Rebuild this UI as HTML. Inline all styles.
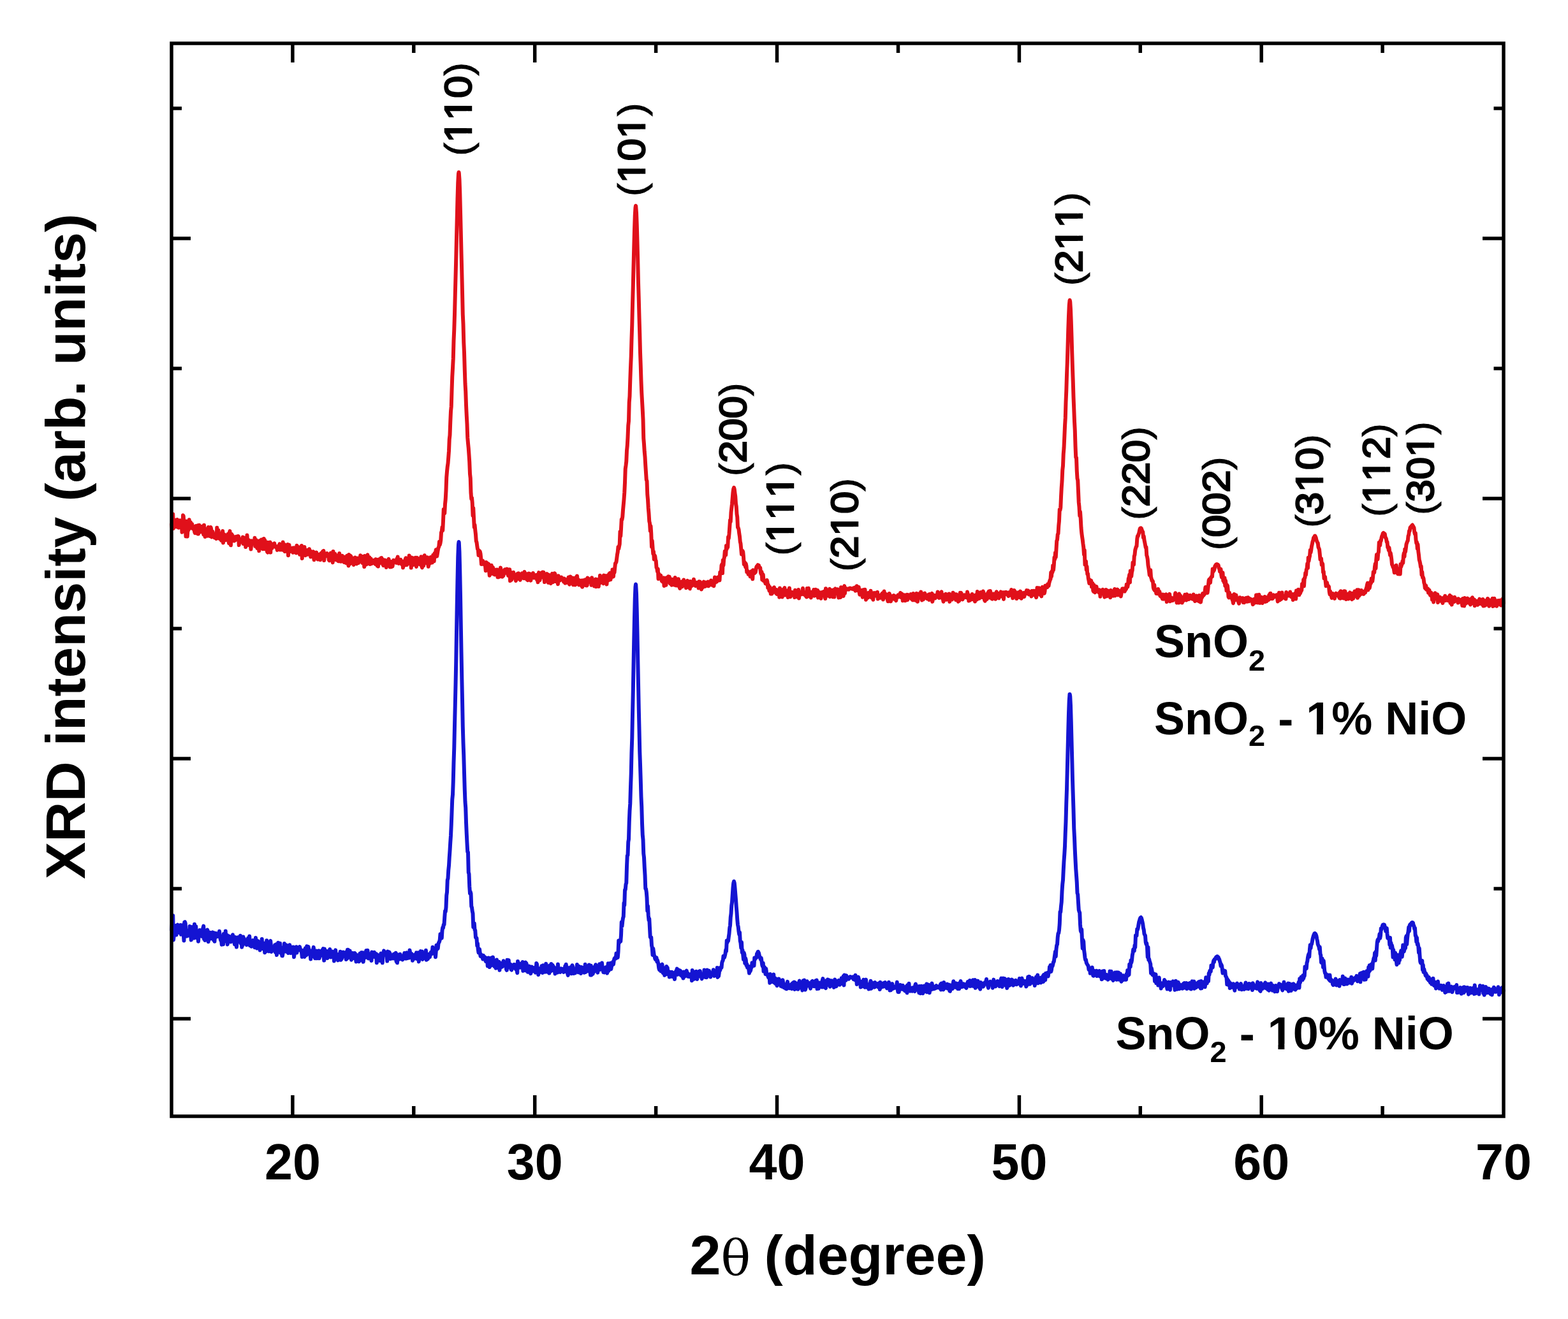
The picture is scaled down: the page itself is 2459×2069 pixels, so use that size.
<!DOCTYPE html>
<html><head><meta charset="utf-8"><title>XRD</title>
<style>
html,body{margin:0;padding:0;background:#fff;}
svg{display:block;}
text{font-family:"Liberation Sans",Arial,sans-serif;font-weight:bold;fill:#000;}
.pl{font-weight:normal;font-kerning:none;stroke:#000;stroke-width:2.6px;}
.pr{font-weight:normal;stroke:#000;stroke-width:1.0px;}
</style></head><body>
<svg width="2459" height="2069" viewBox="0 0 2459 2069">
<rect x="0" y="0" width="2459" height="2069" fill="#fff"/>
<path d="M269.00 822.6L269.75 827.7L270.50 822.8L271.25 806.6L272.00 829.0L272.75 824.6L273.50 815.2L274.25 826.2L275.00 824.3L275.75 823.9L276.50 821.6L277.25 826.6L278.00 815.1L278.75 820.5L279.50 817.9L280.25 827.8L281.00 823.0L281.75 820.4L282.50 816.4L283.25 821.2L284.00 823.7L284.75 821.5L285.50 834.8L286.25 832.5L287.00 808.3L287.75 809.5L288.50 823.6L289.25 821.8L290.00 827.1L290.75 827.3L291.50 841.3L292.25 817.5L293.00 823.4L293.75 841.6L294.50 831.6L295.25 831.9L296.00 823.4L296.75 815.3L297.50 828.8L298.25 828.6L299.00 819.2L299.75 823.4L300.50 828.0L301.25 822.0L302.00 828.2L302.75 829.8L303.50 829.6L304.25 826.1L305.00 833.8L305.75 836.1L306.50 832.4L307.25 824.9L308.00 835.5L308.75 827.5L309.50 836.9L310.25 824.2L311.00 837.5L311.75 831.6L312.50 823.8L313.25 830.1L314.00 832.7L314.75 834.3L315.50 826.5L316.25 825.9L317.00 834.4L317.75 830.4L318.50 835.0L319.25 838.5L320.00 823.7L320.75 835.7L321.50 841.9L322.25 832.7L323.00 829.8L323.75 839.6L324.50 836.7L325.25 840.8L326.00 833.5L326.75 826.9L327.50 835.3L328.25 833.5L329.00 841.0L329.75 837.7L330.50 827.1L331.25 829.9L332.00 842.4L332.75 841.3L333.50 833.8L334.25 837.7L335.00 840.5L335.75 840.8L336.50 843.4L337.25 840.0L338.00 838.1L338.75 837.4L339.50 845.1L340.25 827.8L341.00 838.7L341.75 839.8L342.50 831.7L343.25 841.9L344.00 836.5L344.75 845.2L345.50 839.9L346.25 844.5L347.00 847.8L347.75 843.3L348.50 836.4L349.25 833.0L350.00 851.4L350.75 841.2L351.50 838.2L352.25 843.0L353.00 841.3L353.75 847.2L354.50 842.9L355.25 843.0L356.00 839.2L356.75 845.8L357.50 837.8L358.25 847.2L359.00 852.1L359.75 835.6L360.50 833.2L361.25 847.6L362.00 855.3L362.75 839.2L363.50 838.0L364.25 848.1L365.00 840.6L365.75 842.6L366.50 843.6L367.25 848.5L368.00 843.6L368.75 847.5L369.50 845.2L370.25 841.8L371.00 844.8L371.75 841.5L372.50 846.8L373.25 841.0L374.00 841.3L374.75 855.0L375.50 847.2L376.25 847.3L377.00 850.5L377.75 845.7L378.50 846.9L379.25 850.5L380.00 849.9L380.75 842.4L381.50 853.1L382.25 845.8L383.00 843.5L383.75 844.5L384.50 847.3L385.25 858.1L386.00 843.5L386.75 850.7L387.50 839.5L388.25 850.1L389.00 855.0L389.75 849.2L390.50 847.3L391.25 851.9L392.00 854.5L392.75 854.5L393.50 861.5L394.25 852.4L395.00 848.4L395.75 851.0L396.50 851.4L397.25 852.5L398.00 851.9L398.75 853.1L399.50 843.7L400.25 856.8L401.00 849.7L401.75 846.8L402.50 856.3L403.25 859.9L404.00 855.8L404.75 854.3L405.50 848.8L406.25 864.0L407.00 858.4L407.75 848.1L408.50 850.1L409.25 854.7L410.00 846.5L410.75 855.5L411.50 852.4L412.25 861.2L413.00 860.0L413.75 844.9L414.50 855.5L415.25 847.2L416.00 861.3L416.75 856.6L417.50 858.7L418.25 850.6L419.00 865.5L419.75 866.5L420.50 851.0L421.25 858.5L422.00 853.3L422.75 856.7L423.50 850.5L424.25 866.6L425.00 852.3L425.75 855.9L426.50 860.1L427.25 854.4L428.00 856.6L428.75 855.1L429.50 857.4L430.25 852.3L431.00 856.1L431.75 857.4L432.50 856.9L433.25 859.1L434.00 857.4L434.75 862.9L435.50 857.5L436.25 858.6L437.00 856.1L437.75 856.9L438.50 853.3L439.25 862.5L440.00 854.2L440.75 856.4L441.50 862.1L442.25 862.4L443.00 858.5L443.75 850.6L444.50 862.9L445.25 862.2L446.00 853.9L446.75 865.1L447.50 857.8L448.25 855.8L449.00 862.1L449.75 860.8L450.50 862.9L451.25 853.9L452.00 871.2L452.75 859.2L453.50 854.7L454.25 865.6L455.00 860.9L455.75 864.4L456.50 861.2L457.25 862.7L458.00 864.4L458.75 859.6L459.50 866.8L460.25 861.2L461.00 859.3L461.75 864.2L462.50 866.2L463.25 862.9L464.00 859.9L464.75 867.4L465.50 855.7L466.25 859.5L467.00 864.9L467.75 858.1L468.50 865.1L469.25 864.9L470.00 869.7L470.75 860.9L471.50 862.5L472.25 867.3L473.00 855.9L473.75 875.9L474.50 862.6L475.25 862.6L476.00 870.7L476.75 866.3L477.50 857.9L478.25 869.9L479.00 871.2L479.75 864.9L480.50 865.8L481.25 869.8L482.00 863.0L482.75 869.8L483.50 868.8L484.25 864.6L485.00 861.2L485.75 867.1L486.50 864.0L487.25 873.4L488.00 869.3L488.75 872.6L489.50 869.6L490.25 870.3L491.00 865.3L491.75 872.6L492.50 878.2L493.25 868.1L494.00 866.8L494.75 869.1L495.50 867.7L496.25 866.7L497.00 871.0L497.75 869.0L498.50 877.6L499.25 870.7L500.00 872.4L500.75 875.7L501.50 869.7L502.25 878.3L503.00 868.3L503.75 867.6L504.50 869.9L505.25 871.3L506.00 865.1L506.75 871.9L507.50 864.1L508.25 879.1L509.00 872.1L509.75 869.5L510.50 868.3L511.25 871.0L512.00 871.9L512.75 868.0L513.50 868.8L514.25 872.5L515.00 871.0L515.75 878.2L516.50 879.3L517.25 874.0L518.00 876.3L518.75 867.6L519.50 877.3L520.25 874.2L521.00 876.8L521.75 882.4L522.50 865.0L523.25 876.1L524.00 869.6L524.75 877.9L525.50 868.8L526.25 872.9L527.00 876.4L527.75 878.5L528.50 876.0L529.25 871.9L530.00 873.2L530.75 880.2L531.50 876.0L532.25 868.0L533.00 880.3L533.75 878.4L534.50 880.7L535.25 874.9L536.00 880.6L536.75 871.7L537.50 879.6L538.25 874.6L539.00 880.3L539.75 882.0L540.50 873.7L541.25 877.1L542.00 877.6L542.75 883.2L543.50 881.0L544.25 871.8L545.00 879.9L545.75 881.4L546.50 887.5L547.25 869.9L548.00 875.5L548.75 884.5L549.50 871.7L550.25 872.5L551.00 880.8L551.75 883.3L552.50 875.2L553.25 881.1L554.00 879.1L554.75 885.9L555.50 878.7L556.25 883.5L557.00 874.5L557.75 878.0L558.50 878.4L559.25 884.4L560.00 881.8L560.75 875.5L561.50 882.3L562.25 882.8L563.00 878.6L563.75 878.0L564.50 878.3L565.25 871.2L566.00 880.2L566.75 880.5L567.50 875.3L568.25 883.0L569.00 872.9L569.75 876.9L570.50 877.3L571.25 889.1L572.00 872.0L572.75 882.3L573.50 884.2L574.25 881.5L575.00 885.4L575.75 875.0L576.50 870.3L577.25 883.5L578.00 874.2L578.75 878.3L579.50 874.3L580.25 885.0L581.00 884.1L581.75 876.6L582.50 884.3L583.25 880.6L584.00 879.4L584.75 880.4L585.50 879.2L586.25 883.1L587.00 881.6L587.75 878.5L588.50 885.0L589.25 877.3L590.00 881.6L590.75 882.3L591.50 887.3L592.25 877.9L593.00 888.6L593.75 881.2L594.50 879.4L595.25 877.2L596.00 883.2L596.75 880.6L597.50 875.2L598.25 875.1L599.00 877.8L599.75 877.2L600.50 885.7L601.25 887.0L602.00 884.6L602.75 882.2L603.50 878.5L604.25 880.8L605.00 884.8L605.75 890.1L606.50 884.9L607.25 879.3L608.00 880.8L608.75 878.3L609.50 876.9L610.25 879.8L611.00 881.6L611.75 889.4L612.50 880.9L613.25 887.2L614.00 889.1L614.75 881.1L615.50 888.4L616.25 884.1L617.00 878.8L617.75 882.0L618.50 880.9L619.25 879.7L620.00 879.8L620.75 881.5L621.50 882.9L622.25 876.6L623.00 880.8L623.75 873.6L624.50 882.1L625.25 883.8L626.00 881.6L626.75 882.2L627.50 883.7L628.25 877.7L629.00 879.7L629.75 883.3L630.50 885.7L631.25 882.8L632.00 890.4L632.75 880.5L633.50 885.7L634.25 887.0L635.00 880.3L635.75 877.0L636.50 875.3L637.25 881.7L638.00 886.2L638.75 882.3L639.50 881.8L640.25 879.2L641.00 883.7L641.75 871.5L642.50 882.1L643.25 881.1L644.00 874.5L644.75 890.5L645.50 874.4L646.25 875.9L647.00 875.3L647.75 886.3L648.50 876.8L649.25 884.2L650.00 883.8L650.75 882.2L651.50 874.8L652.25 878.1L653.00 888.9L653.75 874.8L654.50 877.0L655.25 880.2L656.00 884.8L656.75 882.2L657.50 884.5L658.25 875.9L659.00 885.4L659.75 883.6L660.50 873.3L661.25 888.2L662.00 890.4L662.75 877.2L663.50 881.0L664.25 887.4L665.00 873.7L665.75 871.2L666.50 874.4L667.25 877.8L668.00 877.7L668.75 883.2L669.50 881.5L670.25 874.2L671.00 882.7L671.75 888.8L672.50 885.3L673.25 884.1L674.00 879.3L674.75 883.6L675.50 873.9L676.25 881.8L677.00 877.3L677.75 882.6L678.50 878.9L679.25 870.7L680.00 875.8L680.75 880.2L681.50 867.9L682.25 869.5L683.00 867.2L683.75 862.2L684.50 872.7L685.25 872.6L686.00 868.1L686.75 863.1L687.50 859.1L688.25 857.9L689.00 849.8L689.75 854.8L690.50 851.9L691.25 847.3L692.00 835.2L692.75 833.6L693.50 827.0L694.25 832.0L695.00 817.1L695.75 799.1L696.50 804.6L697.25 805.2L698.00 790.6L698.75 783.1L699.50 769.3L700.25 748.7L701.00 739.5L701.75 732.0L702.50 726.9L703.25 717.6L704.00 707.4L704.75 689.1L705.50 682.5L706.25 662.1L707.00 645.3L707.75 637.7L708.50 613.0L709.25 591.2L710.00 577.5L710.75 562.9L711.50 534.4L712.25 517.7L713.00 493.2L713.75 463.7L714.50 434.8L715.25 405.6L716.00 372.8L716.75 341.9L717.50 311.0L718.25 286.3L719.00 272.5L719.50 270.2L719.75 271.3L720.50 281.4L721.25 302.7L722.00 332.6L722.75 363.5L723.50 396.3L724.25 426.4L725.00 458.2L725.75 492.8L726.50 508.7L727.25 536.8L728.00 553.1L728.75 579.2L729.50 601.5L730.25 614.1L731.00 635.5L731.75 651.4L732.50 665.2L733.25 686.4L734.00 695.3L734.75 702.8L735.50 713.4L736.25 724.6L737.00 743.4L737.75 750.1L738.50 773.3L739.25 782.5L740.00 780.7L740.75 789.0L741.50 808.6L742.25 796.9L743.00 812.2L743.75 826.9L744.50 823.3L745.25 831.7L746.00 838.1L746.75 848.6L747.50 850.6L748.25 856.4L749.00 861.4L749.75 862.2L750.50 871.0L751.25 865.0L752.00 864.3L752.75 865.3L753.50 868.4L754.25 875.6L755.00 885.1L755.75 882.7L756.50 880.6L757.25 879.7L758.00 883.5L758.75 885.2L759.50 885.5L760.25 882.4L761.00 887.6L761.75 895.3L762.50 882.0L763.25 890.7L764.00 883.2L764.75 893.7L765.50 889.9L766.25 884.7L767.00 894.7L767.75 902.8L768.50 895.4L769.25 900.5L770.00 895.2L770.75 886.7L771.50 898.3L772.25 894.4L773.00 889.9L773.75 900.4L774.50 898.3L775.25 894.9L776.00 901.4L776.75 893.7L777.50 900.8L778.25 893.8L779.00 900.6L779.75 893.5L780.50 905.3L781.25 899.9L782.00 905.4L782.75 895.4L783.50 897.1L784.25 903.2L785.00 890.6L785.75 895.0L786.50 904.5L787.25 902.1L788.00 904.6L788.75 898.9L789.50 903.0L790.25 897.3L791.00 894.6L791.75 893.3L792.50 898.5L793.25 898.7L794.00 898.4L794.75 892.5L795.50 892.6L796.25 899.2L797.00 903.0L797.75 899.3L798.50 898.1L799.25 893.2L800.00 911.1L800.75 897.4L801.50 909.9L802.25 909.4L803.00 903.8L803.75 900.2L804.50 903.4L805.25 897.8L806.00 904.2L806.75 903.1L807.50 905.5L808.25 907.5L809.00 911.0L809.75 901.7L810.50 908.1L811.25 900.1L812.00 899.7L812.75 901.0L813.50 899.5L814.25 908.3L815.00 908.1L815.75 909.7L816.50 904.0L817.25 905.4L818.00 901.7L818.75 899.3L819.50 906.4L820.25 905.6L821.00 899.7L821.75 907.2L822.50 897.0L823.25 903.9L824.00 902.0L824.75 902.5L825.50 900.1L826.25 909.1L827.00 907.5L827.75 910.2L828.50 905.6L829.25 899.4L830.00 903.5L830.75 900.0L831.50 907.2L832.25 910.6L833.00 906.7L833.75 902.7L834.50 903.7L835.25 906.3L836.00 899.1L836.75 906.1L837.50 906.4L838.25 903.2L839.00 903.8L839.75 906.4L840.50 902.1L841.25 902.1L842.00 909.2L842.75 906.8L843.50 913.2L844.25 901.6L845.00 898.1L845.75 910.1L846.50 910.2L847.25 902.8L848.00 899.7L848.75 905.9L849.50 898.5L850.25 904.7L851.00 897.6L851.75 905.3L852.50 897.7L853.25 905.3L854.00 913.1L854.75 905.3L855.50 909.9L856.25 903.8L857.00 902.7L857.75 900.1L858.50 911.3L859.25 906.5L860.00 913.9L860.75 901.7L861.50 906.0L862.25 907.4L863.00 913.2L863.75 915.1L864.50 904.4L865.25 902.4L866.00 899.8L866.75 913.3L867.50 907.2L868.25 904.8L869.00 907.5L869.75 899.3L870.50 900.4L871.25 912.1L872.00 909.8L872.75 908.9L873.50 904.0L874.25 911.0L875.00 916.2L875.75 903.3L876.50 908.8L877.25 907.0L878.00 910.5L878.75 909.1L879.50 908.5L880.25 905.5L881.00 909.3L881.75 906.8L882.50 909.0L883.25 909.4L884.00 912.6L884.75 907.4L885.50 908.6L886.25 914.7L887.00 909.3L887.75 909.2L888.50 914.1L889.25 911.7L890.00 911.0L890.75 911.6L891.50 905.5L892.25 912.9L893.00 916.7L893.75 913.5L894.50 904.4L895.25 912.4L896.00 907.4L896.75 910.4L897.50 912.0L898.25 906.4L899.00 917.3L899.75 911.3L900.50 915.0L901.25 914.4L902.00 917.5L902.75 916.9L903.50 905.5L904.25 912.0L905.00 903.4L905.75 909.9L906.50 914.9L907.25 915.8L908.00 917.4L908.75 910.3L909.50 913.3L910.25 912.4L911.00 917.4L911.75 918.8L912.50 910.4L913.25 920.7L914.00 912.0L914.75 910.4L915.50 914.5L916.25 915.2L917.00 914.3L917.75 909.2L918.50 918.3L919.25 912.2L920.00 918.6L920.75 918.0L921.50 906.5L922.25 907.8L923.00 907.7L923.75 913.0L924.50 912.2L925.25 913.1L926.00 908.5L926.75 913.8L927.50 917.9L928.25 906.2L929.00 911.1L929.75 912.9L930.50 911.3L931.25 911.0L932.00 919.4L932.75 917.3L933.50 915.4L934.25 908.4L935.00 920.3L935.75 913.2L936.50 909.1L937.25 910.1L938.00 909.4L938.75 920.1L939.50 912.2L940.25 911.6L941.00 902.7L941.75 914.3L942.50 906.5L943.25 906.1L944.00 913.5L944.75 907.0L945.50 914.2L946.25 915.3L947.00 902.5L947.75 909.5L948.50 903.1L949.25 909.4L950.00 913.3L950.75 903.2L951.50 916.6L952.25 907.0L953.00 902.8L953.75 906.9L954.50 910.4L955.25 900.3L956.00 905.7L956.75 898.8L957.50 909.3L958.25 903.7L959.00 900.1L959.75 905.3L960.50 893.6L961.25 896.0L962.00 904.4L962.75 893.6L963.50 898.3L964.25 890.6L965.00 883.8L965.75 883.1L966.50 881.4L967.25 875.6L968.00 869.8L968.75 865.9L969.50 857.9L970.25 860.9L971.00 857.1L971.75 853.3L972.50 833.9L973.25 841.1L974.00 829.8L974.75 814.7L975.50 815.1L976.25 810.7L977.00 800.3L977.75 792.1L978.50 783.5L979.25 773.0L980.00 757.1L980.75 735.4L981.50 730.2L982.25 723.9L983.00 706.8L983.75 699.4L984.50 685.8L985.25 667.3L986.00 660.5L986.75 630.9L987.50 621.8L988.25 597.4L989.00 576.5L989.75 559.4L990.50 532.2L991.25 510.2L992.00 478.1L992.75 450.6L993.50 418.6L994.25 388.7L995.00 360.7L995.75 338.3L996.50 325.8L997.00 322.7L997.25 323.4L998.00 333.6L998.75 353.3L999.50 379.8L1000.25 409.7L1001.00 443.3L1001.75 468.6L1002.50 497.7L1003.25 523.2L1004.00 552.9L1004.75 573.5L1005.50 597.4L1006.25 616.2L1007.00 629.1L1007.75 643.0L1008.50 657.8L1009.25 687.6L1010.00 696.8L1010.75 708.6L1011.50 716.7L1012.25 729.9L1013.00 741.1L1013.75 752.6L1014.50 754.5L1015.25 775.5L1016.00 783.7L1016.75 796.9L1017.50 805.5L1018.25 817.6L1019.00 820.9L1019.75 832.8L1020.50 825.1L1021.25 836.6L1022.00 857.6L1022.75 848.3L1023.50 858.5L1024.25 868.4L1025.00 865.2L1025.75 877.3L1026.50 870.9L1027.25 872.3L1028.00 878.4L1028.75 879.9L1029.50 890.2L1030.25 891.3L1031.00 896.5L1031.75 892.4L1032.50 907.9L1033.25 900.1L1034.00 901.7L1034.75 905.3L1035.50 903.4L1036.25 902.7L1037.00 906.8L1037.75 911.2L1038.50 910.9L1039.25 912.7L1040.00 906.8L1040.75 906.4L1041.50 918.9L1042.25 909.6L1043.00 913.1L1043.75 914.5L1044.50 917.8L1045.25 906.2L1046.00 910.1L1046.75 910.6L1047.50 911.3L1048.25 904.3L1049.00 912.6L1049.75 904.7L1050.50 914.6L1051.25 915.7L1052.00 916.1L1052.75 908.6L1053.50 917.8L1054.25 910.2L1055.00 908.8L1055.75 909.9L1056.50 910.6L1057.25 915.0L1058.00 917.8L1058.75 906.0L1059.50 912.2L1060.25 918.4L1061.00 915.5L1061.75 916.9L1062.50 908.4L1063.25 918.9L1064.00 908.3L1064.75 915.8L1065.50 920.8L1066.25 923.0L1067.00 917.3L1067.75 918.9L1068.50 912.6L1069.25 913.2L1070.00 920.2L1070.75 915.3L1071.50 914.8L1072.25 909.5L1073.00 916.1L1073.75 918.2L1074.50 912.2L1075.25 913.4L1076.00 922.2L1076.75 916.4L1077.50 914.4L1078.25 910.9L1079.00 913.1L1079.75 914.7L1080.50 921.5L1081.25 913.2L1082.00 923.4L1082.75 911.9L1083.50 914.3L1084.25 919.4L1085.00 914.9L1085.75 912.4L1086.50 915.3L1087.25 917.8L1088.00 908.7L1088.75 914.9L1089.50 915.5L1090.25 914.3L1091.00 919.1L1091.75 913.6L1092.50 914.5L1093.25 916.2L1094.00 919.1L1094.75 915.1L1095.50 922.4L1096.25 912.2L1097.00 921.4L1097.75 912.4L1098.50 915.3L1099.25 917.5L1100.00 924.4L1100.75 919.8L1101.50 914.3L1102.25 921.4L1103.00 915.1L1103.75 912.6L1104.50 917.8L1105.25 916.3L1106.00 919.9L1106.75 913.5L1107.50 917.4L1108.25 918.4L1109.00 916.9L1109.75 915.5L1110.50 912.6L1111.25 919.3L1112.00 916.0L1112.75 917.4L1113.50 913.7L1114.25 915.1L1115.00 910.5L1115.75 915.1L1116.50 917.8L1117.25 914.7L1118.00 917.7L1118.75 915.0L1119.50 919.2L1120.25 912.1L1121.00 905.4L1121.75 913.8L1122.50 910.6L1123.25 906.4L1124.00 912.6L1124.75 910.0L1125.50 909.8L1126.25 905.3L1127.00 906.3L1127.75 905.2L1128.50 910.4L1129.25 897.8L1130.00 898.9L1130.75 898.6L1131.50 886.9L1132.25 885.0L1133.00 899.1L1133.75 878.8L1134.50 886.8L1135.25 877.0L1136.00 874.1L1136.75 864.7L1137.50 866.2L1138.25 870.5L1139.00 856.0L1139.75 861.3L1140.50 855.5L1141.25 858.6L1142.00 842.4L1142.75 844.6L1143.50 837.2L1144.25 826.8L1145.00 816.0L1145.75 818.3L1146.50 803.5L1147.25 797.2L1148.00 790.3L1148.75 781.3L1149.50 772.1L1150.25 767.0L1151.00 764.9L1151.75 767.4L1152.50 773.5L1153.25 778.7L1154.00 790.1L1154.75 794.5L1155.50 806.3L1156.25 811.0L1157.00 827.3L1157.75 828.0L1158.50 830.5L1159.25 836.8L1160.00 841.5L1160.75 849.7L1161.50 852.7L1162.25 861.0L1163.00 869.5L1163.75 869.4L1164.50 863.9L1165.25 865.6L1166.00 873.2L1166.75 885.1L1167.50 881.5L1168.25 882.7L1169.00 889.1L1169.75 884.3L1170.50 887.8L1171.25 897.2L1172.00 895.2L1172.75 896.0L1173.50 900.7L1174.25 897.6L1175.00 897.9L1175.75 899.4L1176.50 904.4L1177.25 902.1L1178.00 896.3L1178.75 899.9L1179.50 903.6L1180.25 908.3L1181.00 894.2L1181.75 899.7L1182.50 896.1L1183.25 899.2L1184.00 896.4L1184.75 897.9L1185.50 893.2L1186.25 889.4L1187.00 888.1L1187.75 887.4L1188.50 886.2L1189.00 886.5L1189.25 886.6L1190.00 887.0L1190.75 890.1L1191.50 890.1L1192.25 890.8L1193.00 898.7L1193.75 900.6L1194.50 897.0L1195.25 909.3L1196.00 900.6L1196.75 901.6L1197.50 911.1L1198.25 910.9L1199.00 910.9L1199.75 912.8L1200.50 915.3L1201.25 915.0L1202.00 916.1L1202.75 909.9L1203.50 913.2L1204.25 922.1L1205.00 917.5L1205.75 923.3L1206.50 926.8L1207.25 920.8L1208.00 923.9L1208.75 931.4L1209.50 926.5L1210.25 931.6L1211.00 930.7L1211.75 927.9L1212.50 924.7L1213.25 922.1L1214.00 921.4L1214.75 928.1L1215.50 928.3L1216.25 926.0L1217.00 930.4L1217.75 924.9L1218.50 932.0L1219.25 928.0L1220.00 927.9L1220.75 928.3L1221.50 928.1L1222.25 936.7L1223.00 922.5L1223.75 929.8L1224.50 934.2L1225.25 932.3L1226.00 928.4L1226.75 936.6L1227.50 925.6L1228.25 924.7L1229.00 932.2L1229.75 924.2L1230.50 922.1L1231.25 933.5L1232.00 933.1L1232.75 933.0L1233.50 928.2L1234.25 930.9L1235.00 926.3L1235.75 937.0L1236.50 933.3L1237.25 933.2L1238.00 922.5L1238.75 933.5L1239.50 936.2L1240.25 935.1L1241.00 933.4L1241.75 930.3L1242.50 929.0L1243.25 932.7L1244.00 931.9L1244.75 931.3L1245.50 929.2L1246.25 937.1L1247.00 925.8L1247.75 930.4L1248.50 928.2L1249.25 934.5L1250.00 936.1L1250.75 935.4L1251.50 933.5L1252.25 925.0L1253.00 938.4L1253.75 932.6L1254.50 930.1L1255.25 930.6L1256.00 929.2L1256.75 932.3L1257.50 931.8L1258.25 929.2L1259.00 922.7L1259.75 930.5L1260.50 932.5L1261.25 932.7L1262.00 930.0L1262.75 932.4L1263.50 934.7L1264.25 928.8L1265.00 936.5L1265.75 923.0L1266.50 925.7L1267.25 927.1L1268.00 922.8L1268.75 926.8L1269.50 935.6L1270.25 935.6L1271.00 931.1L1271.75 937.5L1272.50 931.7L1273.25 928.8L1274.00 931.7L1274.75 930.2L1275.50 933.7L1276.25 924.9L1277.00 934.7L1277.75 929.0L1278.50 934.2L1279.25 924.8L1280.00 929.2L1280.75 931.2L1281.50 934.4L1282.25 926.1L1283.00 937.5L1283.75 932.8L1284.50 928.8L1285.25 935.7L1286.00 931.3L1286.75 935.5L1287.50 938.8L1288.25 934.0L1289.00 928.9L1289.75 929.3L1290.50 933.3L1291.25 932.2L1292.00 927.8L1292.75 928.4L1293.50 933.7L1294.25 939.0L1295.00 923.2L1295.75 934.0L1296.50 930.3L1297.25 934.2L1298.00 934.6L1298.75 931.4L1299.50 927.2L1300.25 925.7L1301.00 923.8L1301.75 936.0L1302.50 930.4L1303.25 929.1L1304.00 930.1L1304.75 925.9L1305.50 932.4L1306.25 936.4L1307.00 935.6L1307.75 924.9L1308.50 936.4L1309.25 928.0L1310.00 923.4L1310.75 926.0L1311.50 926.9L1312.25 930.6L1313.00 926.4L1313.75 924.4L1314.50 929.1L1315.25 937.6L1316.00 927.0L1316.75 931.4L1317.50 929.6L1318.25 936.9L1319.00 921.2L1319.75 932.8L1320.50 923.0L1321.25 925.4L1322.00 927.0L1322.75 934.9L1323.50 923.7L1324.25 919.1L1325.00 930.7L1325.75 922.5L1326.50 924.3L1327.25 924.7L1328.00 924.8L1328.75 923.7L1329.50 924.5L1330.25 924.4L1331.00 924.7L1331.75 922.8L1332.50 922.6L1333.25 922.5L1334.00 923.2L1334.75 923.0L1335.00 923.1L1335.50 923.2L1336.25 923.7L1337.00 923.4L1337.75 924.1L1338.50 922.2L1339.25 922.2L1340.00 923.6L1340.75 921.7L1341.50 926.8L1342.25 921.3L1343.00 926.0L1343.75 919.2L1344.50 922.6L1345.25 925.8L1346.00 926.5L1346.75 921.0L1347.50 928.8L1348.25 932.7L1349.00 931.8L1349.75 927.1L1350.50 927.7L1351.25 925.8L1352.00 933.3L1352.75 936.8L1353.50 929.4L1354.25 925.1L1355.00 932.8L1355.75 935.0L1356.50 924.7L1357.25 933.3L1358.00 940.7L1358.75 936.3L1359.50 935.4L1360.25 935.0L1361.00 937.7L1361.75 930.0L1362.50 930.5L1363.25 935.5L1364.00 931.3L1364.75 935.0L1365.50 926.7L1366.25 937.1L1367.00 937.5L1367.75 934.5L1368.50 935.0L1369.25 940.7L1370.00 930.3L1370.75 931.0L1371.50 930.3L1372.25 933.0L1373.00 930.7L1373.75 934.8L1374.50 932.2L1375.25 929.2L1376.00 928.8L1376.75 939.5L1377.50 934.6L1378.25 934.0L1379.00 935.0L1379.75 934.7L1380.50 937.9L1381.25 937.2L1382.00 932.8L1382.75 931.9L1383.50 930.9L1384.25 930.3L1385.00 940.6L1385.75 931.7L1386.50 927.5L1387.25 932.0L1388.00 932.3L1388.75 936.6L1389.50 932.0L1390.25 937.4L1391.00 936.9L1391.75 940.3L1392.50 943.2L1393.25 943.2L1394.00 940.7L1394.75 931.1L1395.50 934.0L1396.25 936.5L1397.00 943.3L1397.75 938.2L1398.50 940.3L1399.25 935.0L1400.00 938.0L1400.75 938.5L1401.50 934.0L1402.25 938.7L1403.00 939.9L1403.75 935.2L1404.50 939.7L1405.25 942.1L1406.00 936.1L1406.75 935.9L1407.50 934.7L1408.25 933.5L1409.00 936.5L1409.75 934.3L1410.50 934.7L1411.25 933.0L1412.00 930.0L1412.75 932.3L1413.50 937.2L1414.25 931.4L1415.00 933.5L1415.75 942.3L1416.50 940.3L1417.25 933.3L1418.00 938.3L1418.75 933.5L1419.50 942.2L1420.25 933.8L1421.00 936.3L1421.75 941.3L1422.50 932.8L1423.25 941.0L1424.00 932.9L1424.75 936.9L1425.50 934.9L1426.25 935.7L1427.00 936.6L1427.75 935.7L1428.50 932.1L1429.25 939.3L1430.00 938.8L1430.75 941.0L1431.50 941.3L1432.25 930.9L1433.00 941.0L1433.75 941.0L1434.50 934.0L1435.25 940.0L1436.00 941.7L1436.75 934.0L1437.50 930.8L1438.25 934.7L1439.00 943.7L1439.75 936.9L1440.50 931.4L1441.25 935.1L1442.00 932.2L1442.75 934.5L1443.50 936.4L1444.25 928.4L1445.00 937.4L1445.75 941.5L1446.50 935.3L1447.25 934.6L1448.00 940.2L1448.75 931.2L1449.50 931.3L1450.25 930.7L1451.00 935.5L1451.75 937.6L1452.50 935.7L1453.25 938.2L1454.00 939.2L1454.75 938.0L1455.50 933.0L1456.25 935.0L1457.00 940.9L1457.75 932.1L1458.50 935.1L1459.25 934.5L1460.00 935.4L1460.75 931.9L1461.50 930.9L1462.25 943.7L1463.00 939.7L1463.75 933.3L1464.50 935.8L1465.25 938.7L1466.00 934.8L1466.75 938.4L1467.50 933.7L1468.25 934.7L1469.00 935.7L1469.75 934.3L1470.50 928.4L1471.25 936.2L1472.00 937.1L1472.75 937.9L1473.50 932.3L1474.25 937.4L1475.00 936.9L1475.75 929.3L1476.50 928.4L1477.25 937.9L1478.00 932.4L1478.75 939.9L1479.50 943.7L1480.25 933.8L1481.00 933.4L1481.75 936.0L1482.50 938.7L1483.25 931.7L1484.00 940.8L1484.75 939.9L1485.50 938.6L1486.25 934.0L1487.00 939.6L1487.75 939.4L1488.50 931.5L1489.25 943.7L1490.00 934.9L1490.75 937.5L1491.50 934.1L1492.25 937.5L1493.00 940.5L1493.75 933.0L1494.50 929.7L1495.25 934.3L1496.00 931.1L1496.75 933.1L1497.50 935.6L1498.25 935.8L1499.00 941.0L1499.75 932.2L1500.50 937.4L1501.25 934.1L1502.00 941.3L1502.75 943.7L1503.50 937.2L1504.25 942.5L1505.00 934.0L1505.75 929.9L1506.50 931.2L1507.25 930.0L1508.00 932.4L1508.75 935.1L1509.50 940.4L1510.25 938.7L1511.00 937.8L1511.75 934.4L1512.50 933.3L1513.25 936.1L1514.00 936.5L1514.75 937.0L1515.50 937.4L1516.25 935.6L1517.00 928.6L1517.75 931.7L1518.50 932.8L1519.25 942.5L1520.00 934.4L1520.75 938.6L1521.50 941.6L1522.25 937.3L1523.00 934.5L1523.75 934.8L1524.50 932.0L1525.25 937.1L1526.00 940.2L1526.75 938.1L1527.50 938.8L1528.25 938.6L1529.00 943.5L1529.75 933.4L1530.50 936.4L1531.25 938.5L1532.00 940.5L1532.75 928.0L1533.50 933.7L1534.25 934.8L1535.00 931.6L1535.75 938.8L1536.50 936.4L1537.25 933.9L1538.00 929.1L1538.75 930.3L1539.50 931.6L1540.25 937.1L1541.00 930.6L1541.75 927.5L1542.50 929.6L1543.25 932.8L1544.00 941.5L1544.75 942.7L1545.50 933.1L1546.25 938.6L1547.00 940.3L1547.75 939.8L1548.50 934.3L1549.25 929.7L1550.00 932.8L1550.75 927.4L1551.50 935.5L1552.25 937.5L1553.00 927.1L1553.75 934.2L1554.50 935.4L1555.25 939.1L1556.00 939.5L1556.75 937.2L1557.50 931.4L1558.25 932.6L1559.00 938.6L1559.75 931.5L1560.50 933.6L1561.25 939.8L1562.00 934.2L1562.75 928.3L1563.50 932.4L1564.25 936.0L1565.00 932.7L1565.75 937.9L1566.50 938.3L1567.25 930.7L1568.00 931.2L1568.75 932.7L1569.50 928.4L1570.25 934.5L1571.00 932.2L1571.75 935.9L1572.50 930.5L1573.25 929.3L1574.00 939.9L1574.75 929.2L1575.50 930.3L1576.25 929.7L1577.00 931.3L1577.75 928.8L1578.50 932.2L1579.25 929.5L1580.00 930.6L1580.75 933.6L1581.50 934.9L1582.25 933.9L1583.00 929.1L1583.75 933.5L1584.50 931.4L1585.25 931.4L1586.00 925.0L1586.75 934.4L1587.50 931.1L1588.25 938.3L1589.00 934.1L1589.75 927.2L1590.50 926.1L1591.25 936.0L1592.00 928.0L1592.75 934.1L1593.50 930.1L1594.25 939.1L1595.00 931.6L1595.75 937.2L1596.50 936.4L1597.25 929.3L1598.00 929.8L1598.75 936.9L1599.50 931.1L1600.25 927.6L1601.00 935.7L1601.75 938.8L1602.50 930.8L1603.25 936.4L1604.00 930.3L1604.75 936.2L1605.50 929.9L1606.25 936.1L1607.00 932.9L1607.75 930.0L1608.50 931.7L1609.25 928.6L1610.00 926.2L1610.75 926.5L1611.50 930.4L1612.25 926.4L1613.00 932.2L1613.75 932.6L1614.50 932.3L1615.25 928.4L1616.00 930.5L1616.75 930.2L1617.50 935.5L1618.25 927.0L1619.00 928.6L1619.75 929.1L1620.50 929.4L1621.25 926.9L1622.00 927.3L1622.75 933.8L1623.50 927.1L1624.25 933.2L1625.00 937.1L1625.75 934.4L1626.50 922.1L1627.25 932.2L1628.00 930.9L1628.75 931.0L1629.50 922.2L1630.25 931.6L1631.00 924.0L1631.75 933.3L1632.50 932.2L1633.25 935.4L1634.00 925.8L1634.75 920.9L1635.50 930.9L1636.25 929.8L1637.00 924.3L1637.75 930.8L1638.50 927.5L1639.25 918.8L1640.00 921.9L1640.75 920.7L1641.50 921.1L1642.25 921.3L1643.00 916.4L1643.75 917.2L1644.50 919.0L1645.25 914.6L1646.00 911.9L1646.75 909.7L1647.50 908.3L1648.25 897.9L1649.00 904.3L1649.75 896.0L1650.50 897.8L1651.25 887.0L1652.00 894.1L1652.75 886.7L1653.50 874.5L1654.25 877.2L1655.00 867.0L1655.75 874.0L1656.50 861.4L1657.25 848.4L1658.00 846.8L1658.75 838.2L1659.50 837.1L1660.25 824.6L1661.00 816.9L1661.75 799.2L1662.50 800.2L1663.25 796.5L1664.00 779.3L1664.75 765.0L1665.50 754.8L1666.25 737.5L1667.00 730.7L1667.75 711.7L1668.50 702.8L1669.25 686.1L1670.00 668.5L1670.75 655.7L1671.50 630.5L1672.25 613.5L1673.00 588.3L1673.75 569.1L1674.50 543.3L1675.25 517.2L1676.00 495.8L1676.75 479.1L1677.50 471.5L1677.70 470.9L1678.25 473.4L1679.00 485.5L1679.75 504.1L1680.50 527.4L1681.25 553.8L1682.00 577.7L1682.75 598.3L1683.50 623.0L1684.25 641.5L1685.00 661.2L1685.75 674.9L1686.50 699.6L1687.25 717.5L1688.00 717.6L1688.75 738.6L1689.50 750.6L1690.25 753.6L1691.00 770.6L1691.75 788.0L1692.50 795.1L1693.25 808.8L1694.00 802.8L1694.75 813.8L1695.50 827.8L1696.25 836.0L1697.00 841.7L1697.75 846.6L1698.50 853.2L1699.25 858.5L1700.00 869.7L1700.75 862.9L1701.50 885.7L1702.25 880.3L1703.00 880.5L1703.75 893.8L1704.50 888.6L1705.25 900.2L1706.00 899.8L1706.75 907.0L1707.50 910.5L1708.25 915.0L1709.00 909.4L1709.75 912.2L1710.50 915.1L1711.25 910.8L1712.00 920.6L1712.75 919.9L1713.50 914.9L1714.25 926.4L1715.00 927.9L1715.75 917.7L1716.50 926.1L1717.25 929.4L1718.00 928.3L1718.75 921.4L1719.50 920.1L1720.25 925.7L1721.00 924.5L1721.75 926.7L1722.50 926.6L1723.25 929.4L1724.00 925.2L1724.75 927.0L1725.50 935.7L1726.25 927.5L1727.00 931.1L1727.75 929.4L1728.50 929.2L1729.25 924.8L1730.00 930.6L1730.75 928.4L1731.50 932.0L1732.25 936.6L1733.00 929.6L1733.75 932.0L1734.50 924.9L1735.25 929.5L1736.00 935.3L1736.75 928.9L1737.50 926.7L1738.25 930.1L1739.00 928.6L1739.75 928.4L1740.50 927.9L1741.25 937.3L1742.00 926.0L1742.75 927.9L1743.50 927.3L1744.25 934.5L1745.00 928.5L1745.75 934.8L1746.50 930.3L1747.25 929.6L1748.00 923.9L1748.75 934.5L1749.50 931.8L1750.25 931.3L1751.00 929.2L1751.75 928.0L1752.50 924.6L1753.25 933.4L1754.00 930.6L1754.75 928.0L1755.50 926.9L1756.25 929.7L1757.00 928.7L1757.75 935.4L1758.50 931.7L1759.25 926.0L1760.00 923.6L1760.75 926.6L1761.50 923.4L1762.25 926.8L1763.00 927.4L1763.75 927.6L1764.50 925.8L1765.25 922.3L1766.00 924.3L1766.75 916.8L1767.50 918.6L1768.25 920.6L1769.00 916.5L1769.75 907.7L1770.50 905.8L1771.25 901.2L1772.00 913.4L1772.75 895.6L1773.50 898.7L1774.25 904.2L1775.00 897.3L1775.75 894.7L1776.50 882.5L1777.25 884.2L1778.00 885.8L1778.75 872.4L1779.50 870.3L1780.25 862.9L1781.00 860.1L1781.75 857.6L1782.50 857.1L1783.25 845.5L1784.00 840.7L1784.75 841.0L1785.50 837.9L1786.25 836.1L1787.00 832.2L1787.75 829.2L1788.50 828.4L1789.00 828.3L1789.25 828.2L1790.00 829.0L1790.75 831.6L1791.50 833.6L1792.25 834.3L1793.00 843.2L1793.75 841.0L1794.50 847.1L1795.25 850.9L1796.00 854.8L1796.75 859.1L1797.50 858.3L1798.25 871.1L1799.00 873.2L1799.75 877.5L1800.50 886.5L1801.25 890.8L1802.00 895.9L1802.75 902.1L1803.50 899.5L1804.25 894.2L1805.00 905.3L1805.75 907.6L1806.50 910.8L1807.25 910.7L1808.00 912.1L1808.75 921.5L1809.50 924.3L1810.25 917.6L1811.00 926.2L1811.75 924.8L1812.50 925.3L1813.25 930.9L1814.00 929.0L1814.75 928.0L1815.50 931.2L1816.25 923.9L1817.00 930.0L1817.75 931.2L1818.50 928.0L1819.25 934.5L1820.00 935.2L1820.75 932.2L1821.50 934.1L1822.25 937.6L1823.00 939.3L1823.75 932.5L1824.50 936.9L1825.25 939.7L1826.00 935.7L1826.75 933.0L1827.50 933.1L1828.25 934.9L1829.00 932.3L1829.75 944.0L1830.50 934.3L1831.25 938.0L1832.00 937.3L1832.75 939.1L1833.50 935.3L1834.25 931.9L1835.00 943.2L1835.75 936.7L1836.50 937.5L1837.25 937.9L1838.00 942.0L1838.75 940.2L1839.50 941.8L1840.25 940.5L1841.00 938.0L1841.75 938.5L1842.50 934.8L1843.25 930.3L1844.00 936.8L1844.75 933.7L1845.50 945.4L1846.25 943.8L1847.00 942.4L1847.75 935.9L1848.50 945.6L1849.25 931.6L1850.00 933.5L1850.75 935.2L1851.50 934.6L1852.25 938.8L1853.00 939.0L1853.75 945.6L1854.50 942.2L1855.25 943.0L1856.00 940.0L1856.75 937.9L1857.50 935.9L1858.25 932.9L1859.00 935.3L1859.75 937.2L1860.50 941.5L1861.25 932.3L1862.00 933.6L1862.75 939.6L1863.50 934.8L1864.25 940.1L1865.00 937.3L1865.75 936.0L1866.50 933.9L1867.25 938.6L1868.00 936.2L1868.75 936.7L1869.50 936.6L1870.25 939.7L1871.00 939.6L1871.75 932.6L1872.50 938.4L1873.25 940.5L1874.00 942.9L1874.75 941.9L1875.50 939.7L1876.25 934.5L1877.00 935.9L1877.75 942.1L1878.50 935.9L1879.25 942.3L1880.00 943.0L1880.75 933.9L1881.50 939.4L1882.25 936.9L1883.00 944.6L1883.75 939.7L1884.50 934.0L1885.25 936.9L1886.00 931.1L1886.75 933.3L1887.50 933.8L1888.25 932.6L1889.00 932.1L1889.75 926.1L1890.50 921.0L1891.25 925.5L1892.00 921.8L1892.75 920.9L1893.50 930.1L1894.25 924.9L1895.00 917.4L1895.75 910.1L1896.50 908.6L1897.25 913.3L1898.00 914.0L1898.75 906.2L1899.50 905.7L1900.25 903.9L1901.00 904.5L1901.75 892.5L1902.50 897.0L1903.25 895.5L1904.00 894.5L1904.75 891.4L1905.50 887.7L1906.25 887.0L1907.00 885.4L1907.75 885.3L1908.50 885.0L1909.25 885.5L1910.00 885.8L1910.75 886.7L1911.50 891.0L1912.25 891.3L1913.00 896.5L1913.75 896.0L1914.50 892.7L1915.25 901.7L1916.00 905.6L1916.75 901.8L1917.50 898.3L1918.25 910.7L1919.00 909.7L1919.75 913.7L1920.50 906.5L1921.25 918.8L1922.00 910.8L1922.75 917.5L1923.50 926.6L1924.25 917.4L1925.00 919.0L1925.75 926.3L1926.50 936.1L1927.25 937.3L1928.00 929.8L1928.75 937.2L1929.50 936.6L1930.25 936.3L1931.00 937.5L1931.75 934.1L1932.50 940.6L1933.25 942.2L1934.00 946.2L1934.75 942.5L1935.50 931.9L1936.25 935.3L1937.00 941.3L1937.75 940.6L1938.50 933.5L1939.25 940.2L1940.00 939.5L1940.75 940.8L1941.50 940.6L1942.25 944.6L1943.00 946.7L1943.75 943.8L1944.50 937.2L1945.25 938.1L1946.00 938.9L1946.75 941.2L1947.50 939.9L1948.25 940.2L1949.00 938.1L1949.75 945.0L1950.50 944.7L1951.25 945.1L1952.00 941.2L1952.75 943.2L1953.50 938.2L1954.25 937.8L1955.00 939.6L1955.75 943.8L1956.50 941.0L1957.25 937.3L1958.00 941.9L1958.75 943.2L1959.50 942.2L1960.25 939.1L1961.00 941.8L1961.75 940.0L1962.50 940.3L1963.25 941.1L1964.00 944.2L1964.75 948.1L1965.50 947.1L1966.25 943.6L1967.00 939.7L1967.75 940.0L1968.50 940.0L1969.25 945.2L1970.00 933.4L1970.75 941.7L1971.50 933.2L1972.25 940.6L1973.00 945.5L1973.75 937.0L1974.50 932.8L1975.25 945.0L1976.00 945.7L1976.75 941.8L1977.50 944.6L1978.25 936.7L1979.00 944.0L1979.75 945.9L1980.50 941.8L1981.25 940.3L1982.00 943.9L1982.75 943.3L1983.50 936.0L1984.25 943.9L1985.00 941.4L1985.75 939.1L1986.50 943.3L1987.25 941.7L1988.00 940.9L1988.75 936.0L1989.50 941.0L1990.25 933.5L1991.00 937.1L1991.75 931.0L1992.50 930.8L1993.25 938.9L1994.00 936.8L1994.75 937.3L1995.50 939.1L1996.25 938.0L1997.00 933.2L1997.75 936.8L1998.50 936.1L1999.25 934.3L2000.00 935.7L2000.75 934.7L2001.50 933.5L2002.25 934.6L2003.00 936.7L2003.75 943.4L2004.50 932.5L2005.25 937.5L2006.00 929.8L2006.75 941.5L2007.50 934.1L2008.25 935.8L2009.00 940.1L2009.75 939.0L2010.50 929.4L2011.25 937.2L2012.00 934.2L2012.75 937.4L2013.50 935.6L2014.25 937.8L2015.00 936.1L2015.75 934.5L2016.50 939.5L2017.25 929.0L2018.00 933.3L2018.75 931.3L2019.50 934.4L2020.25 933.3L2021.00 934.4L2021.75 933.0L2022.50 933.1L2023.25 928.5L2024.00 934.7L2024.75 936.0L2025.50 932.4L2026.25 932.2L2027.00 932.1L2027.75 941.0L2028.50 935.1L2029.25 935.8L2030.00 932.9L2030.75 932.0L2031.50 930.3L2032.25 939.4L2033.00 926.4L2033.75 933.8L2034.50 932.1L2035.25 930.6L2036.00 924.8L2036.75 925.3L2037.50 933.2L2038.25 925.6L2039.00 930.7L2039.75 928.6L2040.50 926.8L2041.25 926.0L2042.00 916.1L2042.75 917.2L2043.50 919.8L2044.25 909.3L2045.00 919.2L2045.75 906.9L2046.50 906.1L2047.25 898.8L2048.00 901.7L2048.75 893.4L2049.50 892.0L2050.25 884.3L2051.00 891.1L2051.75 874.7L2052.50 880.1L2053.25 875.3L2054.00 872.3L2054.75 863.0L2055.50 866.8L2056.25 862.6L2057.00 856.7L2057.75 853.7L2058.50 849.6L2059.25 847.7L2060.00 843.8L2060.75 842.7L2061.50 841.4L2062.00 840.6L2062.25 840.5L2063.00 841.9L2063.75 843.6L2064.50 847.3L2065.25 849.0L2066.00 851.0L2066.75 851.8L2067.50 858.3L2068.25 860.1L2069.00 861.6L2069.75 868.8L2070.50 877.5L2071.25 877.3L2072.00 876.0L2072.75 885.9L2073.50 883.3L2074.25 884.8L2075.00 897.7L2075.75 896.5L2076.50 907.2L2077.25 906.8L2078.00 904.9L2078.75 912.1L2079.50 919.3L2080.25 915.4L2081.00 914.0L2081.75 917.7L2082.50 919.0L2083.25 919.2L2084.00 920.2L2084.75 928.5L2085.50 932.4L2086.25 927.6L2087.00 933.0L2087.75 934.3L2088.50 938.0L2089.25 931.3L2090.00 931.1L2090.75 934.6L2091.50 933.7L2092.25 934.8L2093.00 938.9L2093.75 932.4L2094.50 935.1L2095.25 930.6L2096.00 933.9L2096.75 932.0L2097.50 931.7L2098.25 933.9L2099.00 933.1L2099.75 936.3L2100.50 938.0L2101.25 929.1L2102.00 938.8L2102.75 927.2L2103.50 935.9L2104.25 937.7L2105.00 932.5L2105.75 934.1L2106.50 932.0L2107.25 938.4L2108.00 927.3L2108.75 931.3L2109.50 927.5L2110.25 935.7L2111.00 940.0L2111.75 939.5L2112.50 937.5L2113.25 935.8L2114.00 931.8L2114.75 939.4L2115.50 937.0L2116.25 931.2L2117.00 929.4L2117.75 931.8L2118.50 938.3L2119.25 938.8L2120.00 940.1L2120.75 930.7L2121.50 932.1L2122.25 938.7L2123.00 934.0L2123.75 936.0L2124.50 927.6L2125.25 931.1L2126.00 932.3L2126.75 930.8L2127.50 930.3L2128.25 925.3L2129.00 937.8L2129.75 931.7L2130.50 925.2L2131.25 934.9L2132.00 930.6L2132.75 932.9L2133.50 929.0L2134.25 926.3L2135.00 926.0L2135.75 930.1L2136.50 931.4L2137.25 929.8L2138.00 930.0L2138.75 931.8L2139.50 927.6L2140.25 929.9L2141.00 929.7L2141.75 925.7L2142.50 923.5L2143.25 921.2L2144.00 917.1L2144.75 914.6L2145.50 925.4L2146.25 918.6L2147.00 915.0L2147.75 922.5L2148.50 918.4L2149.25 912.7L2150.00 914.9L2150.75 907.6L2151.50 907.8L2152.25 911.9L2153.00 906.0L2153.75 897.3L2154.50 898.8L2155.25 898.0L2156.00 888.9L2156.75 884.3L2157.50 891.5L2158.25 878.0L2159.00 869.9L2159.75 873.1L2160.50 877.4L2161.25 868.1L2162.00 865.8L2162.75 851.0L2163.50 853.5L2164.25 855.4L2165.00 848.0L2165.75 848.3L2166.50 843.7L2167.25 840.8L2168.00 839.2L2168.75 836.6L2169.50 835.9L2170.25 836.3L2171.00 837.4L2171.75 837.4L2172.50 842.7L2173.25 843.8L2174.00 845.5L2174.75 850.3L2175.50 850.0L2176.25 858.6L2177.00 857.3L2177.75 863.1L2178.50 859.1L2179.25 864.8L2180.00 870.8L2180.75 867.5L2181.50 871.7L2182.25 877.4L2183.00 885.5L2183.75 886.4L2184.50 889.4L2185.25 888.7L2186.00 893.5L2186.75 898.2L2187.50 893.4L2188.25 895.9L2189.00 897.6L2189.75 886.7L2190.50 895.9L2191.25 898.5L2192.00 900.1L2192.75 895.0L2193.50 900.4L2194.25 892.2L2195.00 893.3L2195.75 900.6L2196.50 885.1L2197.25 889.1L2198.00 886.7L2198.75 884.7L2199.50 880.1L2200.25 883.0L2201.00 871.8L2201.75 867.5L2202.50 873.0L2203.25 861.5L2204.00 865.6L2204.75 860.4L2205.50 853.6L2206.25 851.7L2207.00 849.3L2207.75 848.1L2208.50 840.7L2209.25 839.0L2210.00 832.7L2210.75 833.0L2211.50 827.5L2212.25 828.1L2213.00 825.6L2213.75 825.2L2214.50 823.9L2215.00 823.5L2215.25 824.0L2216.00 825.2L2216.75 826.5L2217.50 828.1L2218.25 835.2L2219.00 837.9L2219.75 836.0L2220.50 846.7L2221.25 852.0L2222.00 850.4L2222.75 860.5L2223.50 854.1L2224.25 864.9L2225.00 870.4L2225.75 878.2L2226.50 880.7L2227.25 884.1L2228.00 889.7L2228.75 888.2L2229.50 901.7L2230.25 897.1L2231.00 905.7L2231.75 905.4L2232.50 907.5L2233.25 913.9L2234.00 916.0L2234.75 922.3L2235.50 923.4L2236.25 918.7L2237.00 925.0L2237.75 925.1L2238.50 923.1L2239.25 923.3L2240.00 930.0L2240.75 928.0L2241.50 925.7L2242.25 931.8L2243.00 933.8L2243.75 934.1L2244.50 929.7L2245.25 932.8L2246.00 940.8L2246.75 933.0L2247.50 935.2L2248.25 944.4L2249.00 938.5L2249.75 935.5L2250.50 930.3L2251.25 939.1L2252.00 932.9L2252.75 938.2L2253.50 935.2L2254.25 932.3L2255.00 945.0L2255.75 938.4L2256.50 942.4L2257.25 941.8L2258.00 936.4L2258.75 939.6L2259.50 938.0L2260.25 943.1L2261.00 941.1L2261.75 938.3L2262.50 945.9L2263.25 941.8L2264.00 941.6L2264.75 937.0L2265.50 941.6L2266.25 934.7L2267.00 942.0L2267.75 936.8L2268.50 941.1L2269.25 939.5L2270.00 941.5L2270.75 942.0L2271.50 940.6L2272.25 940.6L2273.00 935.4L2273.75 933.9L2274.50 945.8L2275.25 943.3L2276.00 935.8L2276.75 948.5L2277.50 938.8L2278.25 943.4L2279.00 943.2L2279.75 942.1L2280.50 944.0L2281.25 936.7L2282.00 941.8L2282.75 941.0L2283.50 942.4L2284.25 941.1L2285.00 939.8L2285.75 939.6L2286.50 945.6L2287.25 939.3L2288.00 943.8L2288.75 943.9L2289.50 942.3L2290.25 944.3L2291.00 944.8L2291.75 940.9L2292.50 944.1L2293.25 950.0L2294.00 939.1L2294.75 942.0L2295.50 940.3L2296.25 950.5L2297.00 938.1L2297.75 943.4L2298.50 946.8L2299.25 940.3L2300.00 943.0L2300.75 941.0L2301.50 938.7L2302.25 943.5L2303.00 945.6L2303.75 942.4L2304.50 944.5L2305.25 946.5L2306.00 948.4L2306.75 939.5L2307.50 946.4L2308.25 941.9L2309.00 937.3L2309.75 941.4L2310.50 946.7L2311.25 945.5L2312.00 940.4L2312.75 950.3L2313.50 946.0L2314.25 944.3L2315.00 942.6L2315.75 946.2L2316.50 943.3L2317.25 948.9L2318.00 945.9L2318.75 947.1L2319.50 943.8L2320.25 939.6L2321.00 946.9L2321.75 941.3L2322.50 944.7L2323.25 945.0L2324.00 942.3L2324.75 948.4L2325.50 940.0L2326.25 950.6L2327.00 943.1L2327.75 948.8L2328.50 950.0L2329.25 942.2L2330.00 942.7L2330.75 948.8L2331.50 946.1L2332.25 945.8L2333.00 938.9L2333.75 939.6L2334.50 947.5L2335.25 950.8L2336.00 943.1L2336.75 942.5L2337.50 946.4L2338.25 947.4L2339.00 947.7L2339.75 944.2L2340.50 938.7L2341.25 951.0L2342.00 944.0L2342.75 950.3L2343.50 938.7L2344.25 947.2L2345.00 944.1L2345.75 942.0L2346.50 949.4L2347.25 950.6L2348.00 943.8L2348.75 948.3L2349.50 942.1L2350.25 943.7L2351.00 945.1L2351.75 944.7L2352.50 948.3L2353.25 941.6L2354.00 949.5L2354.75 949.5L2355.50 945.2L2356.25 941.7L2357.00 938.8L2357.75 945.8" fill="none" stroke="#e0101a" stroke-width="6.0" stroke-linejoin="round" stroke-linecap="round"/>
<path d="M269.00 1458.0L269.75 1450.7L270.50 1452.1L271.25 1436.2L272.00 1474.5L272.75 1467.9L273.50 1453.6L274.25 1464.4L275.00 1459.8L275.75 1452.0L276.50 1466.5L277.25 1454.6L278.00 1454.6L278.75 1450.6L279.50 1462.0L280.25 1457.1L281.00 1462.9L281.75 1453.0L282.50 1459.5L283.25 1451.0L284.00 1465.8L284.75 1460.4L285.50 1461.7L286.25 1462.5L287.00 1451.0L287.75 1465.7L288.50 1475.5L289.25 1446.6L290.00 1446.2L290.75 1448.2L291.50 1466.6L292.25 1461.2L293.00 1468.6L293.75 1466.0L294.50 1462.2L295.25 1462.9L296.00 1459.6L296.75 1467.4L297.50 1452.9L298.25 1458.2L299.00 1463.2L299.75 1474.5L300.50 1456.3L301.25 1454.2L302.00 1458.0L302.75 1468.9L303.50 1460.6L304.25 1471.5L305.00 1449.7L305.75 1470.4L306.50 1469.8L307.25 1453.3L308.00 1464.1L308.75 1471.3L309.50 1463.9L310.25 1470.1L311.00 1476.8L311.75 1465.6L312.50 1462.1L313.25 1459.0L314.00 1468.4L314.75 1463.0L315.50 1463.3L316.25 1463.9L317.00 1468.9L317.75 1458.1L318.50 1455.4L319.25 1452.6L320.00 1472.8L320.75 1465.9L321.50 1474.9L322.25 1465.6L323.00 1461.3L323.75 1468.9L324.50 1465.6L325.25 1458.6L326.00 1461.0L326.75 1477.2L327.50 1468.8L328.25 1469.3L329.00 1465.3L329.75 1462.9L330.50 1472.5L331.25 1466.7L332.00 1463.0L332.75 1466.8L333.50 1462.4L334.25 1469.0L335.00 1474.7L335.75 1463.3L336.50 1476.7L337.25 1464.6L338.00 1469.5L338.75 1463.9L339.50 1467.6L340.25 1469.3L341.00 1466.7L341.75 1465.3L342.50 1465.6L343.25 1464.9L344.00 1460.8L344.75 1468.4L345.50 1472.3L346.25 1475.3L347.00 1473.9L347.75 1481.7L348.50 1472.3L349.25 1468.1L350.00 1481.3L350.75 1465.1L351.50 1476.5L352.25 1465.9L353.00 1473.4L353.75 1460.6L354.50 1476.7L355.25 1470.9L356.00 1466.6L356.75 1481.4L357.50 1476.5L358.25 1472.6L359.00 1468.4L359.75 1472.4L360.50 1471.9L361.25 1476.9L362.00 1477.4L362.75 1469.6L363.50 1470.4L364.25 1470.6L365.00 1466.3L365.75 1470.6L366.50 1473.4L367.25 1477.8L368.00 1481.4L368.75 1470.0L369.50 1477.5L370.25 1472.3L371.00 1485.6L371.75 1474.7L372.50 1477.9L373.25 1470.3L374.00 1471.1L374.75 1476.7L375.50 1473.7L376.25 1477.8L377.00 1467.7L377.75 1479.8L378.50 1471.6L379.25 1485.7L380.00 1475.2L380.75 1482.7L381.50 1469.6L382.25 1479.5L383.00 1472.6L383.75 1474.9L384.50 1477.8L385.25 1476.1L386.00 1479.4L386.75 1482.1L387.50 1481.7L388.25 1478.0L389.00 1471.5L389.75 1474.6L390.50 1477.9L391.25 1468.6L392.00 1483.2L392.75 1478.2L393.50 1478.3L394.25 1484.7L395.00 1483.4L395.75 1481.2L396.50 1475.0L397.25 1482.0L398.00 1482.4L398.75 1476.1L399.50 1486.3L400.25 1483.7L401.00 1471.0L401.75 1482.0L402.50 1475.0L403.25 1487.6L404.00 1486.0L404.75 1476.3L405.50 1477.6L406.25 1482.9L407.00 1481.3L407.75 1490.5L408.50 1486.6L409.25 1481.5L410.00 1486.1L410.75 1473.0L411.50 1485.0L412.25 1488.1L413.00 1482.8L413.75 1480.3L414.50 1487.0L415.25 1494.3L416.00 1485.4L416.75 1478.8L417.50 1492.1L418.25 1475.2L419.00 1487.6L419.75 1482.2L420.50 1490.0L421.25 1481.1L422.00 1492.3L422.75 1487.3L423.50 1477.1L424.25 1476.0L425.00 1484.6L425.75 1492.9L426.50 1487.1L427.25 1487.0L428.00 1485.6L428.75 1490.6L429.50 1489.0L430.25 1488.6L431.00 1482.3L431.75 1493.5L432.50 1494.5L433.25 1481.2L434.00 1498.0L434.75 1491.7L435.50 1485.7L436.25 1478.7L437.00 1491.7L437.75 1491.3L438.50 1485.7L439.25 1479.8L440.00 1494.6L440.75 1486.1L441.50 1486.8L442.25 1499.3L443.00 1499.4L443.75 1494.3L444.50 1487.4L445.25 1493.0L446.00 1479.9L446.75 1490.5L447.50 1486.3L448.25 1483.8L449.00 1482.4L449.75 1493.1L450.50 1491.0L451.25 1491.5L452.00 1495.0L452.75 1486.7L453.50 1484.8L454.25 1482.2L455.00 1489.5L455.75 1495.1L456.50 1490.6L457.25 1494.7L458.00 1485.7L458.75 1489.3L459.50 1487.9L460.25 1485.6L461.00 1501.2L461.75 1496.2L462.50 1488.3L463.25 1488.4L464.00 1492.0L464.75 1485.2L465.50 1494.6L466.25 1486.1L467.00 1490.8L467.75 1487.6L468.50 1490.4L469.25 1486.3L470.00 1485.2L470.75 1488.2L471.50 1489.7L472.25 1491.7L473.00 1493.6L473.75 1500.9L474.50 1497.5L475.25 1492.3L476.00 1497.2L476.75 1490.3L477.50 1500.9L478.25 1496.6L479.00 1487.2L479.75 1497.7L480.50 1498.1L481.25 1484.3L482.00 1490.6L482.75 1492.0L483.50 1484.9L484.25 1489.2L485.00 1489.9L485.75 1497.1L486.50 1496.2L487.25 1504.6L488.00 1492.9L488.75 1500.6L489.50 1495.4L490.25 1496.4L491.00 1489.5L491.75 1485.9L492.50 1491.6L493.25 1499.2L494.00 1503.3L494.75 1498.5L495.50 1498.1L496.25 1491.6L497.00 1503.3L497.75 1502.4L498.50 1493.3L499.25 1495.8L500.00 1491.2L500.75 1503.3L501.50 1498.2L502.25 1495.8L503.00 1498.3L503.75 1498.6L504.50 1494.5L505.25 1490.5L506.00 1490.3L506.75 1488.2L507.50 1499.0L508.25 1506.6L509.00 1488.6L509.75 1497.6L510.50 1499.0L511.25 1492.3L512.00 1498.1L512.75 1491.9L513.50 1503.1L514.25 1494.4L515.00 1497.9L515.75 1500.8L516.50 1495.4L517.25 1488.9L518.00 1495.0L518.75 1501.4L519.50 1497.3L520.25 1498.9L521.00 1492.6L521.75 1498.6L522.50 1501.5L523.25 1498.2L524.00 1507.4L524.75 1497.1L525.50 1493.1L526.25 1490.4L527.00 1503.9L527.75 1498.1L528.50 1503.3L529.25 1500.7L530.00 1506.4L530.75 1504.7L531.50 1496.8L532.25 1500.0L533.00 1504.0L533.75 1492.8L534.50 1505.8L535.25 1504.7L536.00 1503.7L536.75 1498.0L537.50 1500.4L538.25 1493.6L539.00 1499.4L539.75 1496.3L540.50 1499.6L541.25 1496.8L542.00 1500.6L542.75 1505.0L543.50 1493.0L544.25 1503.8L545.00 1489.8L545.75 1489.8L546.50 1498.9L547.25 1499.5L548.00 1501.7L548.75 1491.6L549.50 1499.3L550.25 1500.3L551.00 1505.7L551.75 1499.2L552.50 1502.3L553.25 1495.0L554.00 1498.9L554.75 1497.7L555.50 1503.2L556.25 1495.1L557.00 1495.9L557.75 1502.7L558.50 1508.6L559.25 1501.8L560.00 1501.5L560.75 1498.4L561.50 1505.3L562.25 1502.7L563.00 1508.4L563.75 1501.7L564.50 1495.6L565.25 1497.4L566.00 1495.4L566.75 1494.2L567.50 1506.3L568.25 1504.1L569.00 1494.3L569.75 1508.8L570.50 1501.4L571.25 1495.7L572.00 1502.2L572.75 1500.0L573.50 1496.6L574.25 1491.0L575.00 1500.5L575.75 1501.8L576.50 1490.7L577.25 1503.1L578.00 1503.4L578.75 1498.2L579.50 1501.0L580.25 1499.1L581.00 1496.4L581.75 1498.7L582.50 1507.0L583.25 1493.5L584.00 1501.6L584.75 1501.4L585.50 1497.1L586.25 1498.4L587.00 1493.8L587.75 1496.4L588.50 1500.6L589.25 1502.1L590.00 1496.2L590.75 1510.2L591.50 1497.8L592.25 1501.2L593.00 1499.5L593.75 1498.6L594.50 1506.8L595.25 1498.3L596.00 1507.0L596.75 1506.1L597.50 1495.6L598.25 1505.6L599.00 1497.5L599.75 1510.2L600.50 1498.7L601.25 1496.1L602.00 1491.4L602.75 1494.4L603.50 1497.8L604.25 1495.8L605.00 1494.7L605.75 1497.3L606.50 1499.6L607.25 1507.6L608.00 1492.4L608.75 1498.0L609.50 1496.0L610.25 1493.3L611.00 1494.5L611.75 1496.2L612.50 1504.1L613.25 1499.7L614.00 1498.0L614.75 1503.5L615.50 1501.9L616.25 1499.5L617.00 1502.4L617.75 1496.6L618.50 1503.6L619.25 1502.8L620.00 1498.6L620.75 1494.7L621.50 1507.9L622.25 1501.0L623.00 1510.2L623.75 1497.4L624.50 1504.6L625.25 1498.4L626.00 1501.7L626.75 1504.5L627.50 1496.7L628.25 1500.0L629.00 1501.3L629.75 1501.0L630.50 1503.3L631.25 1505.4L632.00 1504.5L632.75 1501.7L633.50 1498.7L634.25 1495.0L635.00 1496.9L635.75 1497.8L636.50 1503.7L637.25 1498.6L638.00 1494.4L638.75 1503.3L639.50 1496.4L640.25 1496.6L641.00 1499.2L641.75 1502.5L642.50 1490.6L643.25 1494.8L644.00 1501.0L644.75 1498.4L645.50 1496.0L646.25 1497.5L647.00 1506.8L647.75 1497.9L648.50 1503.5L649.25 1503.8L650.00 1497.8L650.75 1502.1L651.50 1497.8L652.25 1497.0L653.00 1494.4L653.75 1504.1L654.50 1497.9L655.25 1497.1L656.00 1494.3L656.75 1508.4L657.50 1503.2L658.25 1499.0L659.00 1496.2L659.75 1492.1L660.50 1500.9L661.25 1500.8L662.00 1492.5L662.75 1504.9L663.50 1503.0L664.25 1494.5L665.00 1496.4L665.75 1496.9L666.50 1499.7L667.25 1498.1L668.00 1490.8L668.75 1505.7L669.50 1500.0L670.25 1504.5L671.00 1504.3L671.75 1497.1L672.50 1499.6L673.25 1501.3L674.00 1501.2L674.75 1496.5L675.50 1494.0L676.25 1496.9L677.00 1492.5L677.75 1493.3L678.50 1485.8L679.25 1495.6L680.00 1489.6L680.75 1491.3L681.50 1493.1L682.25 1494.2L683.00 1501.2L683.75 1491.9L684.50 1482.7L685.25 1489.2L686.00 1484.2L686.75 1487.7L687.50 1480.4L688.25 1478.4L689.00 1477.2L689.75 1474.2L690.50 1465.3L691.25 1468.4L692.00 1468.6L692.75 1471.6L693.50 1459.7L694.25 1454.9L695.00 1455.5L695.75 1450.2L696.50 1450.5L697.25 1439.0L698.00 1429.3L698.75 1429.8L699.50 1423.5L700.25 1404.5L701.00 1399.5L701.75 1380.4L702.50 1378.0L703.25 1365.0L704.00 1357.8L704.75 1344.8L705.50 1334.3L706.25 1321.5L707.00 1310.7L707.75 1294.4L708.50 1274.6L709.25 1254.1L710.00 1246.3L710.75 1225.9L711.50 1195.8L712.25 1173.7L713.00 1139.0L713.75 1107.5L714.50 1074.8L715.25 1038.0L716.00 991.7L716.75 948.4L717.50 908.9L718.25 873.6L719.00 854.2L719.50 850.1L719.75 851.0L720.50 866.2L721.25 897.1L722.00 934.6L722.75 978.7L723.50 1022.2L724.25 1062.3L725.00 1097.9L725.75 1138.8L726.50 1165.0L727.25 1184.8L728.00 1212.1L728.75 1238.1L729.50 1257.8L730.25 1267.3L731.00 1290.2L731.75 1307.4L732.50 1322.5L733.25 1336.0L734.00 1336.9L734.75 1368.5L735.50 1370.9L736.25 1390.2L737.00 1401.3L737.75 1398.9L738.50 1401.8L739.25 1421.6L740.00 1423.6L740.75 1429.4L741.50 1432.9L742.25 1454.1L743.00 1448.2L743.75 1448.3L744.50 1458.6L745.25 1459.3L746.00 1470.6L746.75 1471.3L747.50 1471.5L748.25 1483.3L749.00 1479.8L749.75 1489.4L750.50 1494.4L751.25 1488.4L752.00 1489.0L752.75 1494.9L753.50 1499.9L754.25 1496.9L755.00 1498.9L755.75 1499.2L756.50 1501.9L757.25 1504.3L758.00 1498.8L758.75 1500.6L759.50 1503.8L760.25 1501.1L761.00 1505.5L761.75 1507.9L762.50 1505.7L763.25 1503.4L764.00 1503.0L764.75 1515.3L765.50 1511.5L766.25 1502.5L767.00 1504.1L767.75 1517.1L768.50 1515.7L769.25 1509.5L770.00 1514.6L770.75 1502.5L771.50 1509.7L772.25 1513.3L773.00 1501.5L773.75 1506.7L774.50 1514.1L775.25 1516.0L776.00 1508.2L776.75 1512.4L777.50 1518.7L778.25 1509.7L779.00 1505.5L779.75 1511.5L780.50 1510.2L781.25 1518.2L782.00 1513.1L782.75 1508.8L783.50 1521.8L784.25 1510.5L785.00 1515.1L785.75 1516.2L786.50 1516.8L787.25 1514.2L788.00 1516.2L788.75 1513.4L789.50 1507.3L790.25 1512.9L791.00 1513.2L791.75 1513.4L792.50 1515.0L793.25 1511.6L794.00 1520.6L794.75 1521.8L795.50 1505.7L796.25 1515.0L797.00 1511.8L797.75 1506.1L798.50 1517.2L799.25 1512.6L800.00 1513.8L800.75 1512.7L801.50 1520.7L802.25 1521.5L803.00 1517.2L803.75 1519.2L804.50 1515.7L805.25 1516.9L806.00 1513.0L806.75 1516.6L807.50 1513.3L808.25 1518.4L809.00 1520.5L809.75 1518.3L810.50 1522.3L811.25 1526.1L812.00 1508.1L812.75 1517.3L813.50 1514.8L814.25 1515.3L815.00 1511.4L815.75 1517.8L816.50 1516.5L817.25 1514.9L818.00 1516.7L818.75 1515.2L819.50 1509.0L820.25 1522.9L821.00 1516.8L821.75 1514.0L822.50 1519.7L823.25 1515.4L824.00 1509.5L824.75 1522.5L825.50 1511.1L826.25 1517.7L827.00 1519.3L827.75 1524.8L828.50 1524.2L829.25 1519.7L830.00 1515.6L830.75 1517.2L831.50 1524.0L832.25 1527.2L833.00 1521.7L833.75 1516.4L834.50 1524.0L835.25 1517.7L836.00 1517.7L836.75 1518.3L837.50 1522.2L838.25 1520.9L839.00 1524.1L839.75 1525.5L840.50 1522.1L841.25 1510.9L842.00 1512.3L842.75 1520.6L843.50 1519.7L844.25 1528.9L845.00 1519.9L845.75 1519.4L846.50 1524.4L847.25 1524.9L848.00 1519.2L848.75 1522.4L849.50 1515.3L850.25 1516.2L851.00 1525.9L851.75 1514.2L852.50 1524.5L853.25 1523.5L854.00 1523.9L854.75 1524.6L855.50 1523.1L856.25 1511.7L857.00 1516.2L857.75 1518.0L858.50 1524.7L859.25 1515.7L860.00 1517.6L860.75 1519.1L861.50 1526.6L862.25 1514.4L863.00 1514.8L863.75 1523.6L864.50 1511.9L865.25 1522.3L866.00 1518.8L866.75 1513.9L867.50 1519.0L868.25 1516.4L869.00 1521.6L869.75 1522.5L870.50 1527.5L871.25 1520.9L872.00 1521.4L872.75 1518.4L873.50 1520.9L874.25 1525.6L875.00 1512.4L875.75 1523.9L876.50 1518.6L877.25 1521.3L878.00 1522.4L878.75 1524.8L879.50 1522.1L880.25 1519.3L881.00 1522.4L881.75 1521.1L882.50 1520.1L883.25 1521.9L884.00 1524.9L884.75 1521.7L885.50 1521.7L886.25 1515.3L887.00 1520.5L887.75 1512.8L888.50 1524.2L889.25 1516.9L890.00 1526.8L890.75 1529.9L891.50 1519.3L892.25 1526.9L893.00 1522.8L893.75 1518.6L894.50 1517.3L895.25 1523.5L896.00 1527.2L896.75 1522.6L897.50 1514.3L898.25 1516.4L899.00 1520.0L899.75 1527.0L900.50 1522.3L901.25 1522.4L902.00 1526.4L902.75 1520.1L903.50 1520.6L904.25 1520.2L905.00 1513.1L905.75 1523.0L906.50 1522.8L907.25 1525.3L908.00 1515.7L908.75 1517.3L909.50 1525.0L910.25 1522.3L911.00 1527.0L911.75 1517.0L912.50 1521.7L913.25 1517.8L914.00 1522.2L914.75 1518.7L915.50 1523.2L916.25 1525.6L917.00 1523.8L917.75 1512.7L918.50 1524.9L919.25 1522.7L920.00 1516.1L920.75 1516.8L921.50 1520.7L922.25 1523.2L923.00 1518.6L923.75 1513.4L924.50 1521.8L925.25 1521.3L926.00 1529.4L926.75 1514.8L927.50 1529.4L928.25 1528.2L929.00 1521.8L929.75 1527.8L930.50 1520.8L931.25 1524.7L932.00 1517.0L932.75 1520.6L933.50 1515.7L934.25 1513.2L935.00 1518.9L935.75 1517.1L936.50 1522.6L937.25 1525.6L938.00 1519.2L938.75 1520.1L939.50 1520.6L940.25 1512.3L941.00 1520.9L941.75 1519.6L942.50 1519.3L943.25 1514.5L944.00 1510.5L944.75 1518.1L945.50 1520.6L946.25 1525.0L947.00 1524.0L947.75 1525.3L948.50 1520.3L949.25 1523.6L950.00 1517.3L950.75 1520.9L951.50 1522.0L952.25 1526.6L953.00 1518.4L953.75 1511.3L954.50 1522.9L955.25 1512.7L956.00 1515.6L956.75 1514.1L957.50 1510.7L958.25 1520.3L959.00 1516.3L959.75 1510.0L960.50 1512.2L961.25 1508.9L962.00 1512.7L962.75 1506.8L963.50 1503.6L964.25 1502.7L965.00 1501.9L965.75 1503.5L966.50 1495.5L967.25 1497.2L968.00 1497.2L968.75 1502.1L969.50 1493.3L970.25 1475.4L971.00 1479.2L971.75 1475.6L972.50 1474.9L973.25 1476.7L974.00 1467.1L974.75 1446.5L975.50 1453.0L976.25 1445.4L977.00 1440.1L977.75 1437.8L978.50 1416.4L979.25 1419.9L980.00 1395.9L980.75 1395.6L981.50 1387.3L982.25 1385.1L983.00 1359.3L983.75 1342.1L984.50 1341.4L985.25 1320.8L986.00 1316.4L986.75 1289.8L987.50 1271.7L988.25 1260.9L989.00 1235.1L989.75 1214.2L990.50 1180.5L991.25 1158.7L992.00 1120.4L992.75 1086.3L993.50 1044.7L994.25 1004.7L995.00 968.5L995.75 938.5L996.50 920.6L997.00 916.6L997.25 917.6L998.00 931.1L998.75 958.8L999.50 992.8L1000.25 1034.3L1001.00 1072.5L1001.75 1110.8L1002.50 1143.6L1003.25 1178.9L1004.00 1199.7L1004.75 1223.7L1005.50 1249.6L1006.25 1265.7L1007.00 1291.7L1007.75 1309.6L1008.50 1317.1L1009.25 1339.0L1010.00 1345.0L1010.75 1360.7L1011.50 1372.7L1012.25 1393.8L1013.00 1394.2L1013.75 1399.1L1014.50 1408.3L1015.25 1428.6L1016.00 1421.2L1016.75 1435.5L1017.50 1443.2L1018.25 1441.1L1019.00 1455.9L1019.75 1469.7L1020.50 1471.0L1021.25 1470.2L1022.00 1483.1L1022.75 1486.5L1023.50 1497.9L1024.25 1487.8L1025.00 1493.0L1025.75 1498.1L1026.50 1500.0L1027.25 1503.6L1028.00 1505.0L1028.75 1504.3L1029.50 1502.0L1030.25 1508.5L1031.00 1506.2L1031.75 1509.2L1032.50 1512.7L1033.25 1518.6L1034.00 1521.1L1034.75 1513.5L1035.50 1520.4L1036.25 1523.3L1037.00 1520.1L1037.75 1513.6L1038.50 1512.7L1039.25 1525.4L1040.00 1526.4L1040.75 1524.0L1041.50 1518.5L1042.25 1529.8L1043.00 1529.0L1043.75 1523.8L1044.50 1523.3L1045.25 1516.0L1046.00 1528.0L1046.75 1518.0L1047.50 1528.1L1048.25 1528.5L1049.00 1526.0L1049.75 1532.6L1050.50 1524.5L1051.25 1528.6L1052.00 1529.6L1052.75 1527.4L1053.50 1524.7L1054.25 1531.9L1055.00 1528.6L1055.75 1526.0L1056.50 1526.3L1057.25 1527.7L1058.00 1535.9L1058.75 1527.8L1059.50 1526.4L1060.25 1523.0L1061.00 1522.4L1061.75 1519.6L1062.50 1528.8L1063.25 1528.0L1064.00 1523.6L1064.75 1521.7L1065.50 1526.8L1066.25 1526.0L1067.00 1522.6L1067.75 1529.7L1068.50 1529.1L1069.25 1528.3L1070.00 1531.9L1070.75 1525.9L1071.50 1534.5L1072.25 1524.5L1073.00 1531.0L1073.75 1531.6L1074.50 1527.9L1075.25 1530.5L1076.00 1523.6L1076.75 1522.7L1077.50 1528.3L1078.25 1526.1L1079.00 1531.8L1079.75 1529.4L1080.50 1532.0L1081.25 1530.7L1082.00 1530.3L1082.75 1529.9L1083.50 1527.9L1084.25 1527.6L1085.00 1538.2L1085.75 1522.1L1086.50 1528.8L1087.25 1533.9L1088.00 1531.5L1088.75 1535.7L1089.50 1532.1L1090.25 1524.4L1091.00 1528.4L1091.75 1523.8L1092.50 1534.0L1093.25 1535.9L1094.00 1527.9L1094.75 1532.1L1095.50 1528.1L1096.25 1523.7L1097.00 1527.9L1097.75 1523.1L1098.50 1527.4L1099.25 1530.7L1100.00 1532.9L1100.75 1535.3L1101.50 1528.4L1102.25 1530.8L1103.00 1531.6L1103.75 1532.1L1104.50 1521.4L1105.25 1526.4L1106.00 1533.0L1106.75 1524.9L1107.50 1530.6L1108.25 1533.1L1109.00 1521.4L1109.75 1528.6L1110.50 1530.4L1111.25 1529.4L1112.00 1522.7L1112.75 1530.6L1113.50 1526.7L1114.25 1532.5L1115.00 1530.7L1115.75 1526.4L1116.50 1529.3L1117.25 1525.4L1118.00 1525.2L1118.75 1521.2L1119.50 1526.7L1120.25 1530.9L1121.00 1527.6L1121.75 1526.6L1122.50 1523.6L1123.25 1523.5L1124.00 1528.5L1124.75 1518.1L1125.50 1532.9L1126.25 1522.8L1127.00 1531.4L1127.75 1526.4L1128.50 1518.3L1129.25 1522.2L1130.00 1518.7L1130.75 1518.1L1131.50 1518.0L1132.25 1510.0L1133.00 1507.7L1133.75 1506.5L1134.50 1499.7L1135.25 1502.4L1136.00 1502.0L1136.75 1499.3L1137.50 1495.9L1138.25 1489.8L1139.00 1492.1L1139.75 1475.5L1140.50 1478.7L1141.25 1474.9L1142.00 1475.9L1142.75 1469.8L1143.50 1464.8L1144.25 1455.7L1145.00 1452.0L1145.75 1438.8L1146.50 1433.2L1147.25 1420.4L1148.00 1415.3L1148.75 1403.8L1149.50 1392.4L1150.25 1385.3L1151.00 1382.5L1151.75 1385.0L1152.50 1392.6L1153.25 1402.1L1154.00 1411.0L1154.75 1422.3L1155.50 1431.1L1156.25 1442.2L1157.00 1450.6L1157.75 1454.0L1158.50 1461.1L1159.25 1465.9L1160.00 1462.5L1160.75 1476.0L1161.50 1479.0L1162.25 1486.8L1163.00 1477.9L1163.75 1493.9L1164.50 1490.2L1165.25 1497.6L1166.00 1504.9L1166.75 1494.6L1167.50 1497.8L1168.25 1510.9L1169.00 1502.9L1169.75 1505.5L1170.50 1514.3L1171.25 1512.0L1172.00 1517.7L1172.75 1516.5L1173.50 1515.8L1174.25 1520.9L1175.00 1526.5L1175.75 1516.5L1176.50 1523.5L1177.25 1521.7L1178.00 1516.5L1178.75 1517.4L1179.50 1510.2L1180.25 1510.5L1181.00 1513.3L1181.75 1510.5L1182.50 1514.8L1183.25 1502.4L1184.00 1504.9L1184.75 1502.1L1185.50 1501.8L1186.25 1502.1L1187.00 1496.0L1187.75 1495.6L1188.50 1493.1L1189.00 1492.9L1189.25 1493.4L1190.00 1494.8L1190.75 1498.5L1191.50 1501.0L1192.25 1503.2L1193.00 1505.2L1193.75 1502.7L1194.50 1508.0L1195.25 1513.8L1196.00 1516.1L1196.75 1510.8L1197.50 1523.6L1198.25 1523.5L1199.00 1517.0L1199.75 1519.7L1200.50 1527.9L1201.25 1519.4L1202.00 1525.0L1202.75 1528.9L1203.50 1529.5L1204.25 1530.6L1205.00 1533.2L1205.75 1528.9L1206.50 1530.7L1207.25 1541.8L1208.00 1527.9L1208.75 1532.2L1209.50 1534.9L1210.25 1532.1L1211.00 1540.1L1211.75 1535.8L1212.50 1538.9L1213.25 1528.4L1214.00 1541.4L1214.75 1541.6L1215.50 1534.2L1216.25 1543.0L1217.00 1539.2L1217.75 1542.2L1218.50 1546.2L1219.25 1539.7L1220.00 1535.7L1220.75 1540.1L1221.50 1535.5L1222.25 1537.8L1223.00 1538.4L1223.75 1539.0L1224.50 1546.8L1225.25 1545.9L1226.00 1539.5L1226.75 1547.8L1227.50 1537.2L1228.25 1541.5L1229.00 1543.9L1229.75 1549.3L1230.50 1547.8L1231.25 1547.1L1232.00 1550.6L1232.75 1548.6L1233.50 1551.3L1234.25 1543.2L1235.00 1539.9L1235.75 1544.9L1236.50 1549.8L1237.25 1547.7L1238.00 1550.1L1238.75 1549.5L1239.50 1548.7L1240.25 1549.9L1241.00 1544.0L1241.75 1550.9L1242.50 1542.8L1243.25 1546.2L1244.00 1541.2L1244.75 1548.6L1245.50 1540.6L1246.25 1551.9L1247.00 1541.3L1247.75 1547.4L1248.50 1545.9L1249.25 1543.0L1250.00 1551.1L1250.75 1544.6L1251.50 1551.8L1252.25 1542.1L1253.00 1542.9L1253.75 1538.5L1254.50 1548.0L1255.25 1549.3L1256.00 1546.6L1256.75 1545.0L1257.50 1542.0L1258.25 1553.4L1259.00 1548.3L1259.75 1538.2L1260.50 1544.0L1261.25 1537.6L1262.00 1551.2L1262.75 1552.6L1263.50 1550.6L1264.25 1544.6L1265.00 1542.4L1265.75 1539.2L1266.50 1546.6L1267.25 1541.5L1268.00 1542.9L1268.75 1541.8L1269.50 1543.0L1270.25 1547.6L1271.00 1550.6L1271.75 1544.5L1272.50 1543.9L1273.25 1539.4L1274.00 1538.9L1274.75 1539.5L1275.50 1547.0L1276.25 1544.5L1277.00 1547.2L1277.75 1545.0L1278.50 1541.7L1279.25 1538.4L1280.00 1541.7L1280.75 1537.5L1281.50 1551.0L1282.25 1544.1L1283.00 1541.6L1283.75 1550.8L1284.50 1541.4L1285.25 1545.1L1286.00 1542.2L1286.75 1544.3L1287.50 1541.4L1288.25 1544.8L1289.00 1548.5L1289.75 1537.8L1290.50 1535.1L1291.25 1548.2L1292.00 1543.5L1292.75 1546.3L1293.50 1541.7L1294.25 1549.0L1295.00 1550.1L1295.75 1538.2L1296.50 1545.5L1297.25 1540.4L1298.00 1536.5L1298.75 1541.7L1299.50 1545.1L1300.25 1537.4L1301.00 1537.7L1301.75 1547.7L1302.50 1542.9L1303.25 1544.4L1304.00 1538.3L1304.75 1540.2L1305.50 1543.2L1306.25 1543.5L1307.00 1543.2L1307.75 1548.9L1308.50 1543.2L1309.25 1536.4L1310.00 1538.9L1310.75 1542.1L1311.50 1547.3L1312.25 1539.3L1313.00 1540.3L1313.75 1541.6L1314.50 1538.7L1315.25 1538.0L1316.00 1540.1L1316.75 1544.8L1317.50 1542.4L1318.25 1539.0L1319.00 1541.5L1319.75 1534.3L1320.50 1543.1L1321.25 1541.6L1322.00 1539.4L1322.75 1531.2L1323.50 1545.4L1324.25 1529.6L1325.00 1532.6L1325.75 1532.6L1326.50 1537.9L1327.25 1530.2L1328.00 1535.4L1328.75 1533.9L1329.50 1533.3L1330.25 1535.4L1331.00 1535.7L1331.75 1533.7L1332.50 1532.9L1333.25 1532.1L1334.00 1533.4L1334.75 1532.9L1335.00 1532.6L1335.50 1533.0L1336.25 1533.6L1337.00 1533.1L1337.75 1532.4L1338.50 1536.3L1339.25 1535.0L1340.00 1535.0L1340.75 1537.1L1341.50 1529.8L1342.25 1535.3L1343.00 1535.4L1343.75 1543.9L1344.50 1534.9L1345.25 1535.4L1346.00 1532.6L1346.75 1535.3L1347.50 1538.3L1348.25 1540.6L1349.00 1539.3L1349.75 1548.6L1350.50 1543.0L1351.25 1544.0L1352.00 1547.3L1352.75 1544.7L1353.50 1540.4L1354.25 1536.7L1355.00 1544.5L1355.75 1540.1L1356.50 1548.8L1357.25 1540.8L1358.00 1536.6L1358.75 1544.4L1359.50 1548.6L1360.25 1543.7L1361.00 1545.3L1361.75 1545.4L1362.50 1551.6L1363.25 1546.1L1364.00 1544.9L1364.75 1542.7L1365.50 1538.7L1366.25 1550.8L1367.00 1549.8L1367.75 1541.6L1368.50 1547.8L1369.25 1546.7L1370.00 1544.0L1370.75 1544.3L1371.50 1548.6L1372.25 1541.0L1373.00 1543.7L1373.75 1545.5L1374.50 1545.8L1375.25 1545.0L1376.00 1546.7L1376.75 1548.0L1377.50 1542.5L1378.25 1546.4L1379.00 1544.0L1379.75 1552.0L1380.50 1540.7L1381.25 1545.3L1382.00 1549.0L1382.75 1545.2L1383.50 1545.0L1384.25 1544.3L1385.00 1547.7L1385.75 1542.0L1386.50 1546.2L1387.25 1546.2L1388.00 1541.0L1388.75 1547.7L1389.50 1544.9L1390.25 1548.0L1391.00 1550.2L1391.75 1548.2L1392.50 1542.4L1393.25 1548.2L1394.00 1540.8L1394.75 1544.1L1395.50 1553.6L1396.25 1547.2L1397.00 1553.3L1397.75 1546.6L1398.50 1547.4L1399.25 1543.1L1400.00 1551.1L1400.75 1546.7L1401.50 1550.0L1402.25 1549.3L1403.00 1549.7L1403.75 1549.0L1404.50 1547.7L1405.25 1547.9L1406.00 1545.3L1406.75 1540.6L1407.50 1550.0L1408.25 1555.9L1409.00 1552.4L1409.75 1556.1L1410.50 1550.3L1411.25 1544.9L1412.00 1544.9L1412.75 1551.6L1413.50 1550.1L1414.25 1548.3L1415.00 1551.8L1415.75 1545.7L1416.50 1551.2L1417.25 1548.2L1418.00 1549.9L1418.75 1554.0L1419.50 1549.0L1420.25 1554.8L1421.00 1554.7L1421.75 1546.9L1422.50 1557.4L1423.25 1545.2L1424.00 1549.6L1424.75 1552.9L1425.50 1542.7L1426.25 1554.2L1427.00 1554.6L1427.75 1550.0L1428.50 1551.5L1429.25 1551.3L1430.00 1549.8L1430.75 1554.7L1431.50 1549.3L1432.25 1550.6L1433.00 1552.2L1433.75 1554.0L1434.50 1555.0L1435.25 1545.3L1436.00 1543.5L1436.75 1550.4L1437.50 1550.8L1438.25 1546.9L1439.00 1552.2L1439.75 1553.4L1440.50 1552.5L1441.25 1557.3L1442.00 1547.1L1442.75 1551.1L1443.50 1558.3L1444.25 1553.6L1445.00 1546.8L1445.75 1551.7L1446.50 1555.4L1447.25 1558.3L1448.00 1553.4L1448.75 1555.3L1449.50 1546.6L1450.25 1549.9L1451.00 1555.3L1451.75 1547.1L1452.50 1550.4L1453.25 1543.6L1454.00 1556.2L1454.75 1550.0L1455.50 1552.6L1456.25 1544.7L1457.00 1545.4L1457.75 1557.2L1458.50 1549.0L1459.25 1548.2L1460.00 1552.1L1460.75 1552.2L1461.50 1542.6L1462.25 1546.3L1463.00 1550.1L1463.75 1549.9L1464.50 1551.1L1465.25 1548.1L1466.00 1548.6L1466.75 1550.4L1467.50 1546.9L1468.25 1546.2L1469.00 1547.3L1469.75 1549.3L1470.50 1548.6L1471.25 1547.3L1472.00 1548.1L1472.75 1548.8L1473.50 1550.1L1474.25 1550.2L1475.00 1543.8L1475.75 1552.4L1476.50 1542.5L1477.25 1550.6L1478.00 1545.7L1478.75 1550.6L1479.50 1552.3L1480.25 1541.0L1481.00 1550.4L1481.75 1549.1L1482.50 1546.2L1483.25 1549.4L1484.00 1545.9L1484.75 1548.2L1485.50 1543.6L1486.25 1550.6L1487.00 1549.8L1487.75 1550.3L1488.50 1544.8L1489.25 1554.4L1490.00 1554.8L1490.75 1546.8L1491.50 1545.5L1492.25 1545.5L1493.00 1549.6L1493.75 1550.9L1494.50 1544.0L1495.25 1539.2L1496.00 1548.5L1496.75 1546.5L1497.50 1547.3L1498.25 1548.6L1499.00 1542.2L1499.75 1546.7L1500.50 1545.2L1501.25 1547.8L1502.00 1551.0L1502.75 1546.3L1503.50 1542.9L1504.25 1551.0L1505.00 1548.8L1505.75 1545.3L1506.50 1539.0L1507.25 1542.5L1508.00 1546.4L1508.75 1548.0L1509.50 1543.7L1510.25 1547.4L1511.00 1543.2L1511.75 1544.0L1512.50 1547.7L1513.25 1544.5L1514.00 1546.0L1514.75 1548.9L1515.50 1549.8L1516.25 1543.1L1517.00 1544.3L1517.75 1540.1L1518.50 1540.1L1519.25 1546.3L1520.00 1543.1L1520.75 1537.9L1521.50 1547.1L1522.25 1541.7L1523.00 1543.7L1523.75 1546.5L1524.50 1546.4L1525.25 1544.6L1526.00 1537.2L1526.75 1546.9L1527.50 1542.4L1528.25 1539.1L1529.00 1537.1L1529.75 1549.7L1530.50 1545.1L1531.25 1544.9L1532.00 1546.8L1532.75 1544.1L1533.50 1538.6L1534.25 1547.0L1535.00 1548.2L1535.75 1546.3L1536.50 1550.2L1537.25 1551.6L1538.00 1541.0L1538.75 1542.4L1539.50 1547.5L1540.25 1544.7L1541.00 1544.8L1541.75 1547.6L1542.50 1546.8L1543.25 1542.1L1544.00 1544.3L1544.75 1541.0L1545.50 1543.0L1546.25 1539.4L1547.00 1536.0L1547.75 1541.7L1548.50 1541.3L1549.25 1547.1L1550.00 1549.7L1550.75 1543.6L1551.50 1545.3L1552.25 1540.9L1553.00 1539.7L1553.75 1542.2L1554.50 1542.2L1555.25 1544.4L1556.00 1543.7L1556.75 1549.7L1557.50 1542.3L1558.25 1536.6L1559.00 1543.6L1559.75 1540.4L1560.50 1543.8L1561.25 1547.4L1562.00 1540.4L1562.75 1542.6L1563.50 1544.9L1564.25 1539.1L1565.00 1543.6L1565.75 1544.9L1566.50 1545.9L1567.25 1547.0L1568.00 1544.8L1568.75 1544.1L1569.50 1537.0L1570.25 1534.7L1571.00 1538.6L1571.75 1548.0L1572.50 1542.8L1573.25 1534.5L1574.00 1540.6L1574.75 1543.6L1575.50 1534.9L1576.25 1544.4L1577.00 1537.6L1577.75 1546.2L1578.50 1542.1L1579.25 1549.9L1580.00 1536.6L1580.75 1543.0L1581.50 1536.0L1582.25 1546.3L1583.00 1542.2L1583.75 1545.3L1584.50 1542.0L1585.25 1536.9L1586.00 1539.0L1586.75 1536.6L1587.50 1537.3L1588.25 1542.0L1589.00 1545.6L1589.75 1544.7L1590.50 1543.3L1591.25 1538.9L1592.00 1543.1L1592.75 1537.7L1593.50 1541.8L1594.25 1544.3L1595.00 1540.1L1595.75 1539.0L1596.50 1539.0L1597.25 1543.1L1598.00 1539.4L1598.75 1534.9L1599.50 1538.9L1600.25 1536.2L1601.00 1546.4L1601.75 1540.4L1602.50 1534.4L1603.25 1541.2L1604.00 1543.0L1604.75 1541.6L1605.50 1538.5L1606.25 1540.5L1607.00 1540.9L1607.75 1543.8L1608.50 1541.1L1609.25 1547.6L1610.00 1538.6L1610.75 1545.5L1611.50 1539.4L1612.25 1532.4L1613.00 1534.4L1613.75 1531.8L1614.50 1532.1L1615.25 1543.7L1616.00 1536.1L1616.75 1541.1L1617.50 1535.0L1618.25 1538.4L1619.00 1534.1L1619.75 1541.7L1620.50 1537.1L1621.25 1536.2L1622.00 1537.2L1622.75 1545.9L1623.50 1539.5L1624.25 1540.9L1625.00 1532.4L1625.75 1534.6L1626.50 1538.3L1627.25 1529.4L1628.00 1542.2L1628.75 1537.7L1629.50 1536.4L1630.25 1535.5L1631.00 1535.1L1631.75 1533.8L1632.50 1541.4L1633.25 1538.3L1634.00 1540.3L1634.75 1533.7L1635.50 1531.0L1636.25 1539.9L1637.00 1528.9L1637.75 1531.1L1638.50 1536.1L1639.25 1537.2L1640.00 1526.7L1640.75 1530.5L1641.50 1531.1L1642.25 1529.8L1643.00 1525.9L1643.75 1531.5L1644.50 1525.5L1645.25 1525.6L1646.00 1516.8L1646.75 1523.6L1647.50 1514.1L1648.25 1524.1L1649.00 1521.3L1649.75 1514.8L1650.50 1515.6L1651.25 1512.9L1652.00 1509.1L1652.75 1508.5L1653.50 1503.0L1654.25 1497.8L1655.00 1492.4L1655.75 1500.4L1656.50 1488.6L1657.25 1482.7L1658.00 1481.4L1658.75 1470.1L1659.50 1464.2L1660.25 1463.5L1661.00 1458.7L1661.75 1449.6L1662.50 1430.4L1663.25 1430.5L1664.00 1421.5L1664.75 1414.8L1665.50 1398.2L1666.25 1387.0L1667.00 1380.3L1667.75 1364.6L1668.50 1350.7L1669.25 1340.2L1670.00 1327.5L1670.75 1306.4L1671.50 1288.6L1672.25 1260.2L1673.00 1238.1L1673.75 1208.3L1674.50 1177.0L1675.25 1147.2L1676.00 1119.4L1676.75 1099.1L1677.50 1089.0L1677.70 1089.0L1678.25 1092.1L1679.00 1106.9L1679.75 1131.8L1680.50 1161.5L1681.25 1191.4L1682.00 1222.7L1682.75 1246.5L1683.50 1270.7L1684.25 1299.3L1685.00 1313.8L1685.75 1333.0L1686.50 1348.4L1687.25 1362.8L1688.00 1373.2L1688.75 1383.8L1689.50 1400.9L1690.25 1403.1L1691.00 1415.6L1691.75 1427.4L1692.50 1430.0L1693.25 1431.7L1694.00 1449.7L1694.75 1459.9L1695.50 1461.9L1696.25 1457.8L1697.00 1475.5L1697.75 1487.5L1698.50 1474.6L1699.25 1476.9L1700.00 1490.0L1700.75 1495.4L1701.50 1502.4L1702.25 1505.8L1703.00 1505.4L1703.75 1510.2L1704.50 1511.7L1705.25 1513.0L1706.00 1514.2L1706.75 1515.6L1707.50 1521.1L1708.25 1521.2L1709.00 1518.9L1709.75 1526.7L1710.50 1519.9L1711.25 1523.0L1712.00 1525.4L1712.75 1517.4L1713.50 1524.6L1714.25 1530.4L1715.00 1530.7L1715.75 1522.7L1716.50 1524.7L1717.25 1524.0L1718.00 1527.8L1718.75 1528.8L1719.50 1522.7L1720.25 1530.9L1721.00 1530.1L1721.75 1529.6L1722.50 1527.3L1723.25 1529.5L1724.00 1523.1L1724.75 1531.5L1725.50 1531.5L1726.25 1530.3L1727.00 1526.0L1727.75 1536.2L1728.50 1535.7L1729.25 1523.4L1730.00 1532.9L1730.75 1531.9L1731.50 1522.9L1732.25 1533.5L1733.00 1534.1L1733.75 1534.5L1734.50 1532.2L1735.25 1529.0L1736.00 1529.6L1736.75 1533.8L1737.50 1536.6L1738.25 1529.8L1739.00 1530.7L1739.75 1534.8L1740.50 1523.6L1741.25 1533.9L1742.00 1531.1L1742.75 1523.7L1743.50 1535.3L1744.25 1528.5L1745.00 1535.5L1745.75 1537.9L1746.50 1527.3L1747.25 1527.5L1748.00 1532.4L1748.75 1525.4L1749.50 1535.6L1750.25 1533.4L1751.00 1536.7L1751.75 1525.3L1752.50 1533.6L1753.25 1534.7L1754.00 1525.5L1754.75 1536.5L1755.50 1527.3L1756.25 1533.6L1757.00 1527.5L1757.75 1536.0L1758.50 1539.7L1759.25 1532.9L1760.00 1532.6L1760.75 1537.6L1761.50 1530.2L1762.25 1531.9L1763.00 1534.7L1763.75 1532.6L1764.50 1536.7L1765.25 1534.5L1766.00 1536.7L1766.75 1527.7L1767.50 1531.3L1768.25 1521.9L1769.00 1527.7L1769.75 1529.7L1770.50 1528.8L1771.25 1512.7L1772.00 1515.1L1772.75 1516.4L1773.50 1506.5L1774.25 1510.0L1775.00 1506.7L1775.75 1498.6L1776.50 1494.7L1777.25 1489.1L1778.00 1491.0L1778.75 1491.5L1779.50 1482.9L1780.25 1486.1L1781.00 1467.1L1781.75 1467.0L1782.50 1467.7L1783.25 1457.6L1784.00 1458.3L1784.75 1455.4L1785.50 1450.2L1786.25 1446.1L1787.00 1444.0L1787.75 1441.0L1788.50 1439.5L1789.00 1439.2L1789.25 1439.0L1790.00 1440.0L1790.75 1442.7L1791.50 1446.3L1792.25 1449.5L1793.00 1455.6L1793.75 1458.3L1794.50 1464.8L1795.25 1466.4L1796.00 1467.5L1796.75 1478.1L1797.50 1481.1L1798.25 1479.5L1799.00 1485.7L1799.75 1501.0L1800.50 1486.1L1801.25 1505.3L1802.00 1504.2L1802.75 1507.3L1803.50 1509.8L1804.25 1512.2L1805.00 1526.3L1805.75 1518.5L1806.50 1521.8L1807.25 1528.9L1808.00 1529.4L1808.75 1529.0L1809.50 1530.3L1810.25 1527.6L1811.00 1539.0L1811.75 1531.5L1812.50 1528.5L1813.25 1542.1L1814.00 1541.7L1814.75 1540.8L1815.50 1538.0L1816.25 1545.4L1817.00 1536.9L1817.75 1533.5L1818.50 1542.6L1819.25 1545.4L1820.00 1545.0L1820.75 1550.5L1821.50 1546.2L1822.25 1542.3L1823.00 1542.6L1823.75 1547.0L1824.50 1543.5L1825.25 1543.3L1826.00 1537.1L1826.75 1542.9L1827.50 1539.2L1828.25 1545.2L1829.00 1544.9L1829.75 1547.3L1830.50 1551.5L1831.25 1544.0L1832.00 1550.4L1832.75 1540.5L1833.50 1545.6L1834.25 1548.8L1835.00 1552.7L1835.75 1541.0L1836.50 1544.3L1837.25 1545.9L1838.00 1545.1L1838.75 1541.9L1839.50 1539.3L1840.25 1541.0L1841.00 1545.4L1841.75 1540.7L1842.50 1552.7L1843.25 1550.7L1844.00 1538.7L1844.75 1544.1L1845.50 1551.2L1846.25 1551.7L1847.00 1550.5L1847.75 1540.7L1848.50 1544.9L1849.25 1551.2L1850.00 1546.7L1850.75 1544.6L1851.50 1548.3L1852.25 1550.2L1853.00 1547.0L1853.75 1547.4L1854.50 1550.6L1855.25 1544.3L1856.00 1543.0L1856.75 1549.5L1857.50 1541.9L1858.25 1548.5L1859.00 1543.8L1859.75 1549.8L1860.50 1542.0L1861.25 1551.0L1862.00 1547.7L1862.75 1545.5L1863.50 1543.4L1864.25 1546.1L1865.00 1543.1L1865.75 1542.1L1866.50 1550.8L1867.25 1549.0L1868.00 1551.4L1868.75 1541.6L1869.50 1539.3L1870.25 1540.7L1871.00 1549.2L1871.75 1549.8L1872.50 1539.6L1873.25 1550.7L1874.00 1545.1L1874.75 1542.1L1875.50 1546.4L1876.25 1548.8L1877.00 1545.8L1877.75 1545.9L1878.50 1543.2L1879.25 1540.9L1880.00 1544.8L1880.75 1539.8L1881.50 1548.2L1882.25 1542.4L1883.00 1550.5L1883.75 1539.0L1884.50 1550.3L1885.25 1541.0L1886.00 1540.4L1886.75 1544.5L1887.50 1546.3L1888.25 1541.8L1889.00 1539.8L1889.75 1548.3L1890.50 1541.3L1891.25 1533.3L1892.00 1535.9L1892.75 1542.6L1893.50 1535.5L1894.25 1536.1L1895.00 1539.4L1895.75 1526.8L1896.50 1529.1L1897.25 1522.8L1898.00 1523.7L1898.75 1524.0L1899.50 1514.5L1900.25 1518.4L1901.00 1516.3L1901.75 1517.4L1902.50 1510.2L1903.25 1506.9L1904.00 1509.1L1904.75 1504.6L1905.50 1505.0L1906.25 1503.7L1907.00 1501.4L1907.75 1500.9L1908.50 1500.3L1909.25 1500.3L1910.00 1501.2L1910.75 1501.6L1911.50 1504.9L1912.25 1504.8L1913.00 1508.1L1913.75 1510.1L1914.50 1515.2L1915.25 1512.9L1916.00 1514.6L1916.75 1519.9L1917.50 1526.4L1918.25 1521.7L1919.00 1525.4L1919.75 1525.1L1920.50 1524.8L1921.25 1523.1L1922.00 1531.0L1922.75 1531.9L1923.50 1533.5L1924.25 1544.2L1925.00 1536.0L1925.75 1539.9L1926.50 1538.3L1927.25 1545.5L1928.00 1540.6L1928.75 1549.9L1929.50 1542.3L1930.25 1547.0L1931.00 1548.5L1931.75 1544.1L1932.50 1548.8L1933.25 1546.1L1934.00 1543.2L1934.75 1543.8L1935.50 1547.9L1936.25 1553.7L1937.00 1545.1L1937.75 1549.2L1938.50 1544.2L1939.25 1548.3L1940.00 1542.5L1940.75 1544.5L1941.50 1547.5L1942.25 1544.7L1943.00 1546.6L1943.75 1551.5L1944.50 1547.2L1945.25 1545.0L1946.00 1543.0L1946.75 1545.7L1947.50 1552.2L1948.25 1547.5L1949.00 1547.2L1949.75 1550.6L1950.50 1551.0L1951.25 1551.7L1952.00 1546.5L1952.75 1544.4L1953.50 1541.5L1954.25 1545.2L1955.00 1546.4L1955.75 1550.6L1956.50 1549.1L1957.25 1545.7L1958.00 1551.2L1958.75 1543.1L1959.50 1543.9L1960.25 1543.4L1961.00 1543.7L1961.75 1546.9L1962.50 1544.7L1963.25 1545.0L1964.00 1553.0L1964.75 1542.3L1965.50 1544.0L1966.25 1547.0L1967.00 1549.6L1967.75 1549.8L1968.50 1546.9L1969.25 1546.5L1970.00 1546.9L1970.75 1550.8L1971.50 1544.4L1972.25 1540.4L1973.00 1548.6L1973.75 1543.5L1974.50 1547.7L1975.25 1553.2L1976.00 1548.3L1976.75 1554.9L1977.50 1541.9L1978.25 1548.9L1979.00 1549.4L1979.75 1551.1L1980.50 1545.2L1981.25 1548.6L1982.00 1548.4L1982.75 1548.3L1983.50 1542.8L1984.25 1541.4L1985.00 1550.0L1985.75 1549.3L1986.50 1548.1L1987.25 1550.4L1988.00 1552.1L1988.75 1543.6L1989.50 1550.9L1990.25 1553.6L1991.00 1551.9L1991.75 1550.2L1992.50 1550.6L1993.25 1542.5L1994.00 1546.1L1994.75 1551.9L1995.50 1553.6L1996.25 1549.7L1997.00 1546.2L1997.75 1547.4L1998.50 1551.2L1999.25 1555.4L2000.00 1550.9L2000.75 1545.9L2001.50 1550.3L2002.25 1549.5L2003.00 1555.3L2003.75 1550.1L2004.50 1548.0L2005.25 1547.5L2006.00 1543.1L2006.75 1543.8L2007.50 1545.9L2008.25 1544.6L2009.00 1548.4L2009.75 1548.1L2010.50 1551.2L2011.25 1553.4L2012.00 1548.2L2012.75 1546.8L2013.50 1540.5L2014.25 1549.0L2015.00 1550.0L2015.75 1544.5L2016.50 1545.9L2017.25 1544.7L2018.00 1551.4L2018.75 1549.7L2019.50 1551.9L2020.25 1542.6L2021.00 1554.7L2021.75 1543.9L2022.50 1543.2L2023.25 1547.8L2024.00 1544.8L2024.75 1553.9L2025.50 1545.3L2026.25 1544.1L2027.00 1550.4L2027.75 1551.3L2028.50 1543.3L2029.25 1544.5L2030.00 1544.9L2030.75 1545.5L2031.50 1552.5L2032.25 1550.6L2033.00 1549.6L2033.75 1550.1L2034.50 1544.9L2035.25 1547.9L2036.00 1543.7L2036.75 1540.5L2037.50 1549.4L2038.25 1535.2L2039.00 1541.3L2039.75 1538.1L2040.50 1532.6L2041.25 1536.5L2042.00 1537.0L2042.75 1537.1L2043.50 1530.1L2044.25 1534.8L2045.00 1530.9L2045.75 1530.8L2046.50 1516.5L2047.25 1520.3L2048.00 1516.8L2048.75 1519.2L2049.50 1510.2L2050.25 1508.0L2051.00 1501.9L2051.75 1498.3L2052.50 1496.1L2053.25 1500.8L2054.00 1488.9L2054.75 1482.2L2055.50 1487.4L2056.25 1481.6L2057.00 1481.2L2057.75 1477.7L2058.50 1472.9L2059.25 1470.0L2060.00 1467.4L2060.75 1465.7L2061.50 1464.1L2062.00 1464.0L2062.25 1464.4L2063.00 1464.7L2063.75 1466.3L2064.50 1468.5L2065.25 1472.8L2066.00 1476.1L2066.75 1481.4L2067.50 1483.1L2068.25 1484.6L2069.00 1489.1L2069.75 1485.4L2070.50 1496.4L2071.25 1498.1L2072.00 1509.7L2072.75 1510.2L2073.50 1503.4L2074.25 1507.7L2075.00 1517.3L2075.75 1507.1L2076.50 1514.7L2077.25 1523.0L2078.00 1526.5L2078.75 1526.6L2079.50 1532.8L2080.25 1528.5L2081.00 1531.6L2081.75 1531.9L2082.50 1529.4L2083.25 1535.3L2084.00 1533.8L2084.75 1537.3L2085.50 1529.5L2086.25 1538.7L2087.00 1536.6L2087.75 1536.7L2088.50 1539.8L2089.25 1538.0L2090.00 1543.8L2090.75 1545.2L2091.50 1543.9L2092.25 1544.3L2093.00 1542.0L2093.75 1540.7L2094.50 1535.4L2095.25 1539.1L2096.00 1545.4L2096.75 1543.5L2097.50 1538.5L2098.25 1540.8L2099.00 1544.5L2099.75 1539.6L2100.50 1546.7L2101.25 1537.1L2102.00 1543.2L2102.75 1542.7L2103.50 1540.6L2104.25 1541.0L2105.00 1541.9L2105.75 1531.6L2106.50 1541.4L2107.25 1544.0L2108.00 1541.0L2108.75 1543.9L2109.50 1534.4L2110.25 1538.8L2111.00 1540.3L2111.75 1537.9L2112.50 1543.6L2113.25 1540.7L2114.00 1536.6L2114.75 1541.8L2115.50 1541.8L2116.25 1536.6L2117.00 1540.8L2117.75 1539.6L2118.50 1539.4L2119.25 1532.7L2120.00 1542.8L2120.75 1540.1L2121.50 1537.2L2122.25 1538.5L2123.00 1538.3L2123.75 1535.5L2124.50 1534.1L2125.25 1536.7L2126.00 1533.6L2126.75 1533.8L2127.50 1530.8L2128.25 1534.2L2129.00 1539.2L2129.75 1535.6L2130.50 1534.7L2131.25 1532.9L2132.00 1532.1L2132.75 1527.4L2133.50 1540.2L2134.25 1529.9L2135.00 1526.3L2135.75 1533.9L2136.50 1532.9L2137.25 1529.3L2138.00 1524.9L2138.75 1524.8L2139.50 1536.8L2140.25 1529.2L2141.00 1526.4L2141.75 1536.6L2142.50 1525.7L2143.25 1523.4L2144.00 1529.0L2144.75 1527.4L2145.50 1531.7L2146.25 1517.2L2147.00 1524.2L2147.75 1514.3L2148.50 1522.5L2149.25 1516.1L2150.00 1515.4L2150.75 1512.5L2151.50 1517.8L2152.25 1519.5L2153.00 1509.5L2153.75 1506.4L2154.50 1502.8L2155.25 1505.1L2156.00 1494.9L2156.75 1506.6L2157.50 1492.9L2158.25 1499.3L2159.00 1488.6L2159.75 1478.3L2160.50 1474.4L2161.25 1476.5L2162.00 1472.2L2162.75 1471.1L2163.50 1465.0L2164.25 1471.7L2165.00 1467.7L2165.75 1456.6L2166.50 1457.9L2167.25 1455.8L2168.00 1452.2L2168.75 1450.7L2169.50 1450.3L2170.25 1450.4L2171.00 1450.6L2171.75 1454.1L2172.50 1454.3L2173.25 1460.8L2174.00 1457.2L2174.75 1456.1L2175.50 1464.8L2176.25 1471.6L2177.00 1471.7L2177.75 1472.9L2178.50 1470.5L2179.25 1481.9L2180.00 1471.0L2180.75 1486.6L2181.50 1479.1L2182.25 1484.5L2183.00 1483.2L2183.75 1487.4L2184.50 1501.3L2185.25 1490.0L2186.00 1498.3L2186.75 1495.0L2187.50 1505.2L2188.25 1494.7L2189.00 1502.2L2189.75 1507.2L2190.50 1513.2L2191.25 1498.0L2192.00 1499.6L2192.75 1503.5L2193.50 1510.6L2194.25 1498.1L2195.00 1506.3L2195.75 1498.4L2196.50 1495.3L2197.25 1491.3L2198.00 1498.3L2198.75 1500.8L2199.50 1493.6L2200.25 1482.6L2201.00 1487.1L2201.75 1492.5L2202.50 1489.6L2203.25 1484.0L2204.00 1487.3L2204.75 1470.9L2205.50 1468.4L2206.25 1481.2L2207.00 1471.8L2207.75 1465.2L2208.50 1461.5L2209.25 1454.4L2210.00 1460.5L2210.75 1451.3L2211.50 1450.0L2212.25 1451.1L2213.00 1450.4L2213.75 1447.5L2214.50 1447.0L2215.00 1446.9L2215.25 1447.3L2216.00 1447.8L2216.75 1452.1L2217.50 1452.4L2218.25 1457.4L2219.00 1455.8L2219.75 1467.7L2220.50 1467.9L2221.25 1477.2L2222.00 1470.9L2222.75 1481.6L2223.50 1480.0L2224.25 1484.3L2225.00 1494.4L2225.75 1487.4L2226.50 1499.0L2227.25 1508.3L2228.00 1510.7L2228.75 1510.6L2229.50 1510.1L2230.25 1507.0L2231.00 1521.0L2231.75 1513.8L2232.50 1524.8L2233.25 1520.1L2234.00 1523.8L2234.75 1525.7L2235.50 1530.1L2236.25 1527.2L2237.00 1531.4L2237.75 1529.8L2238.50 1535.5L2239.25 1535.6L2240.00 1537.2L2240.75 1532.9L2241.50 1538.6L2242.25 1538.3L2243.00 1541.3L2243.75 1539.8L2244.50 1536.3L2245.25 1543.8L2246.00 1538.7L2246.75 1543.1L2247.50 1534.7L2248.25 1544.9L2249.00 1546.0L2249.75 1540.2L2250.50 1546.5L2251.25 1543.2L2252.00 1550.5L2252.75 1548.0L2253.50 1540.9L2254.25 1545.3L2255.00 1539.5L2255.75 1545.5L2256.50 1549.1L2257.25 1550.5L2258.00 1547.1L2258.75 1546.9L2259.50 1548.7L2260.25 1545.9L2261.00 1549.7L2261.75 1552.9L2262.50 1549.5L2263.25 1552.3L2264.00 1546.1L2264.75 1547.3L2265.50 1550.6L2266.25 1557.0L2267.00 1553.3L2267.75 1556.1L2268.50 1549.8L2269.25 1554.4L2270.00 1543.4L2270.75 1551.8L2271.50 1542.5L2272.25 1554.7L2273.00 1551.9L2273.75 1554.6L2274.50 1551.8L2275.25 1548.4L2276.00 1547.6L2276.75 1551.2L2277.50 1556.2L2278.25 1552.9L2279.00 1548.6L2279.75 1548.6L2280.50 1548.1L2281.25 1550.0L2282.00 1550.5L2282.75 1549.1L2283.50 1551.0L2284.25 1545.1L2285.00 1557.0L2285.75 1552.1L2286.50 1557.0L2287.25 1552.4L2288.00 1550.6L2288.75 1551.7L2289.50 1552.3L2290.25 1549.1L2291.00 1550.2L2291.75 1558.8L2292.50 1555.2L2293.25 1549.8L2294.00 1553.8L2294.75 1548.7L2295.50 1557.2L2296.25 1548.2L2297.00 1555.4L2297.75 1552.2L2298.50 1552.3L2299.25 1549.2L2300.00 1551.3L2300.75 1549.4L2301.50 1549.1L2302.25 1554.1L2303.00 1559.7L2303.75 1551.2L2304.50 1556.2L2305.25 1552.5L2306.00 1549.9L2306.75 1557.6L2307.50 1555.0L2308.25 1556.9L2309.00 1553.2L2309.75 1553.3L2310.50 1549.8L2311.25 1551.9L2312.00 1559.1L2312.75 1545.5L2313.50 1554.4L2314.25 1558.4L2315.00 1556.0L2315.75 1556.3L2316.50 1552.2L2317.25 1557.3L2318.00 1557.5L2318.75 1553.1L2319.50 1559.5L2320.25 1551.5L2321.00 1545.9L2321.75 1553.3L2322.50 1553.0L2323.25 1550.3L2324.00 1551.8L2324.75 1551.5L2325.50 1546.8L2326.25 1558.1L2327.00 1553.6L2327.75 1560.8L2328.50 1553.6L2329.25 1555.1L2330.00 1548.1L2330.75 1557.4L2331.50 1549.7L2332.25 1555.7L2333.00 1557.1L2333.75 1556.6L2334.50 1550.7L2335.25 1550.9L2336.00 1556.6L2336.75 1558.2L2337.50 1559.2L2338.25 1553.8L2339.00 1553.5L2339.75 1560.5L2340.50 1551.8L2341.25 1556.7L2342.00 1552.8L2342.75 1548.8L2343.50 1549.9L2344.25 1555.6L2345.00 1554.8L2345.75 1555.8L2346.50 1552.7L2347.25 1552.2L2348.00 1555.1L2348.75 1553.4L2349.50 1548.2L2350.25 1552.5L2351.00 1560.2L2351.75 1551.3L2352.50 1556.1L2353.25 1553.8L2354.00 1556.7L2354.75 1550.9L2355.50 1549.4L2356.25 1555.7L2357.00 1551.5L2357.75 1553.9" fill="none" stroke="#1414d2" stroke-width="6.0" stroke-linejoin="round" stroke-linecap="round"/>
<g stroke="#000" stroke-width="5.5" stroke-linecap="butt"><line x1="458.9" y1="1751.0" x2="458.9" y2="1718.0"/><line x1="458.9" y1="68.0" x2="458.9" y2="98.0"/><line x1="838.7" y1="1751.0" x2="838.7" y2="1718.0"/><line x1="838.7" y1="68.0" x2="838.7" y2="98.0"/><line x1="1218.5" y1="1751.0" x2="1218.5" y2="1718.0"/><line x1="1218.5" y1="68.0" x2="1218.5" y2="98.0"/><line x1="1598.4" y1="1751.0" x2="1598.4" y2="1718.0"/><line x1="1598.4" y1="68.0" x2="1598.4" y2="98.0"/><line x1="1978.2" y1="1751.0" x2="1978.2" y2="1718.0"/><line x1="1978.2" y1="68.0" x2="1978.2" y2="98.0"/><line x1="648.8" y1="1751.0" x2="648.8" y2="1735.0"/><line x1="648.8" y1="68.0" x2="648.8" y2="83.0"/><line x1="1028.6" y1="1751.0" x2="1028.6" y2="1735.0"/><line x1="1028.6" y1="68.0" x2="1028.6" y2="83.0"/><line x1="1408.5" y1="1751.0" x2="1408.5" y2="1735.0"/><line x1="1408.5" y1="68.0" x2="1408.5" y2="83.0"/><line x1="1788.3" y1="1751.0" x2="1788.3" y2="1735.0"/><line x1="1788.3" y1="68.0" x2="1788.3" y2="83.0"/><line x1="2168.1" y1="1751.0" x2="2168.1" y2="1735.0"/><line x1="2168.1" y1="68.0" x2="2168.1" y2="83.0"/><line x1="269.0" y1="170.0" x2="285.0" y2="170.0"/><line x1="2358.0" y1="170.0" x2="2342.5" y2="170.0"/><line x1="269.0" y1="374.0" x2="299.0" y2="374.0"/><line x1="2358.0" y1="374.0" x2="2325.0" y2="374.0"/><line x1="269.0" y1="578.0" x2="285.0" y2="578.0"/><line x1="2358.0" y1="578.0" x2="2342.5" y2="578.0"/><line x1="269.0" y1="782.0" x2="299.0" y2="782.0"/><line x1="2358.0" y1="782.0" x2="2325.0" y2="782.0"/><line x1="269.0" y1="986.0" x2="285.0" y2="986.0"/><line x1="2358.0" y1="986.0" x2="2342.5" y2="986.0"/><line x1="269.0" y1="1190.0" x2="299.0" y2="1190.0"/><line x1="2358.0" y1="1190.0" x2="2325.0" y2="1190.0"/><line x1="269.0" y1="1394.0" x2="285.0" y2="1394.0"/><line x1="2358.0" y1="1394.0" x2="2342.5" y2="1394.0"/><line x1="269.0" y1="1598.0" x2="299.0" y2="1598.0"/><line x1="2358.0" y1="1598.0" x2="2325.0" y2="1598.0"/></g>
<rect x="269" y="68" width="2089" height="1683" fill="none" stroke="#000" stroke-width="5.5"/>
<g font-size="79"><text x="458.9" y="1850" text-anchor="middle">20</text><text x="838.7" y="1850" text-anchor="middle">30</text><text x="1218.5" y="1850" text-anchor="middle">40</text><text x="1598.4" y="1850" text-anchor="middle">50</text><text x="1978.2" y="1850" text-anchor="middle">60</text><text x="2358.0" y="1850" text-anchor="middle">70</text></g>
<text x="1081.5" y="1999" font-size="88">2<tspan font-family="DejaVu Serif, Liberation Serif, serif" font-weight="normal" font-size="77.5">θ</tspan><tspan dx="-3"> (degree)</tspan></text>
<text transform="translate(133 1379) rotate(-90)" font-size="87.4">XRD intensity (arb. units)</text>
<g font-size="63.0"><g transform="translate(738.65 244.81) rotate(-90) scale(1 0.955)"><text class="pl"><tspan class="pr">(</tspan>110<tspan class="pr">)</tspan></text><rect x="22.83" y="-7.21" width="12.70" height="9.71" fill="#fff"/><rect x="43.69" y="-7.21" width="11.90" height="9.71" fill="#fff"/><rect x="57.86" y="-7.21" width="12.70" height="9.71" fill="#fff"/><rect x="78.73" y="-7.21" width="11.90" height="9.71" fill="#fff"/></g><g transform="translate(1011.35 308.21) rotate(-90) scale(1 0.955)"><text class="pl"><tspan class="pr">(</tspan>101<tspan class="pr">)</tspan></text><rect x="22.83" y="-7.21" width="12.70" height="9.71" fill="#fff"/><rect x="43.69" y="-7.21" width="11.90" height="9.71" fill="#fff"/><rect x="92.90" y="-7.21" width="12.70" height="9.71" fill="#fff"/><rect x="113.76" y="-7.21" width="11.90" height="9.71" fill="#fff"/></g><g transform="translate(1169.95 747.31) rotate(-90) scale(1 0.955)"><text class="pl"><tspan class="pr">(</tspan>200<tspan class="pr">)</tspan></text></g><g transform="translate(1244.15 871.71) rotate(-90) scale(1 0.955)"><text class="pl"><tspan class="pr">(</tspan>111<tspan class="pr">)</tspan></text><rect x="22.83" y="-7.21" width="12.70" height="9.71" fill="#fff"/><rect x="43.69" y="-7.21" width="11.90" height="9.71" fill="#fff"/><rect x="57.86" y="-7.21" width="12.70" height="9.71" fill="#fff"/><rect x="78.73" y="-7.21" width="11.90" height="9.71" fill="#fff"/><rect x="92.90" y="-7.21" width="12.70" height="9.71" fill="#fff"/><rect x="113.76" y="-7.21" width="11.90" height="9.71" fill="#fff"/></g><g transform="translate(1345.35 896.71) rotate(-90) scale(1 0.955)"><text class="pl"><tspan class="pr">(</tspan>210<tspan class="pr">)</tspan></text><rect x="57.86" y="-7.21" width="12.70" height="9.71" fill="#fff"/><rect x="78.73" y="-7.21" width="11.90" height="9.71" fill="#fff"/></g><g transform="translate(1696.85 448.41) rotate(-90) scale(1 0.955)"><text class="pl"><tspan class="pr">(</tspan>211<tspan class="pr">)</tspan></text><rect x="57.86" y="-7.21" width="12.70" height="9.71" fill="#fff"/><rect x="78.73" y="-7.21" width="11.90" height="9.71" fill="#fff"/><rect x="92.90" y="-7.21" width="12.70" height="9.71" fill="#fff"/><rect x="113.76" y="-7.21" width="11.90" height="9.71" fill="#fff"/></g><g transform="translate(1802.15 815.91) rotate(-90) scale(1 0.955)"><text class="pl"><tspan class="pr">(</tspan>220<tspan class="pr">)</tspan></text></g><g transform="translate(1927.55 863.41) rotate(-90) scale(1 0.955)"><text class="pl"><tspan class="pr">(</tspan>002<tspan class="pr">)</tspan></text></g><g transform="translate(2074.25 828.01) rotate(-90) scale(1 0.955)"><text class="pl"><tspan class="pr">(</tspan>310<tspan class="pr">)</tspan></text><rect x="57.86" y="-7.21" width="12.70" height="9.71" fill="#fff"/><rect x="78.73" y="-7.21" width="11.90" height="9.71" fill="#fff"/></g><g transform="translate(2179.15 811.01) rotate(-90) scale(1 0.955)"><text class="pl"><tspan class="pr">(</tspan>112<tspan class="pr">)</tspan></text><rect x="22.83" y="-7.21" width="12.70" height="9.71" fill="#fff"/><rect x="43.69" y="-7.21" width="11.90" height="9.71" fill="#fff"/><rect x="57.86" y="-7.21" width="12.70" height="9.71" fill="#fff"/><rect x="78.73" y="-7.21" width="11.90" height="9.71" fill="#fff"/></g><g transform="translate(2247.85 808.11) rotate(-90) scale(1 0.955)"><text class="pl"><tspan class="pr">(</tspan>301<tspan class="pr">)</tspan></text><rect x="92.90" y="-7.21" width="12.70" height="9.71" fill="#fff"/><rect x="113.76" y="-7.21" width="11.90" height="9.71" fill="#fff"/></g></g>
<g font-size="72">
<text x="1810" y="1031">SnO<tspan font-size="47" dy="20.6">2</tspan></text>
<text x="1810" y="1152">SnO<tspan font-size="47" dy="18">2</tspan><tspan dy="-18"> - 1% NiO</tspan></text>
<text x="1749.5" y="1646">SnO<tspan font-size="47" dy="20">2</tspan><tspan dy="-20"> - 10% NiO</tspan></text>
</g>
<rect x="2051.66" y="1143.65" width="13.29" height="9.35" fill="#fff"/><rect x="2074.82" y="1143.65" width="12.34" height="9.35" fill="#fff"/><rect x="1991.16" y="1637.65" width="13.29" height="9.35" fill="#fff"/><rect x="2014.32" y="1637.65" width="12.34" height="9.35" fill="#fff"/>
</svg>
</body></html>
